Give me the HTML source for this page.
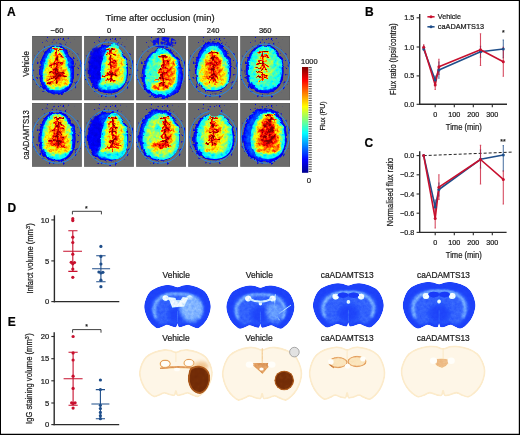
<!DOCTYPE html>
<html><head><meta charset="utf-8"><style>
html,body{margin:0;padding:0;background:#fff;}
body{width:520px;height:435px;overflow:hidden;position:relative;}
svg{position:absolute;left:0;top:0;font-family:"Liberation Sans", sans-serif;will-change:transform;}
text{stroke:#1a1a1a;stroke-width:0.22px;}
</style></head><body>
<svg width="520" height="435" viewBox="0 0 520 435">
<rect x="0" y="0" width="520" height="435" fill="#fff"/>
<text x="6.9" y="15.5" font-size="12" font-weight="bold" fill="#000">A</text>
<text x="365.0" y="15.5" font-size="12" font-weight="bold" fill="#000">B</text>
<text x="364.5" y="147.2" font-size="12" font-weight="bold" fill="#000">C</text>
<text x="7.6" y="211.7" font-size="12" font-weight="bold" fill="#000">D</text>
<text x="7.8" y="326.4" font-size="12" font-weight="bold" fill="#000">E</text>
<text x="105.6" y="20.7" font-size="9.3" textLength="109" lengthAdjust="spacingAndGlyphs" fill="#1a1a1a">Time after occlusion (min)</text>
<text x="56.95" y="32.6" font-size="7.5" text-anchor="middle" fill="#1a1a1a">−60</text>
<text x="109.0" y="32.6" font-size="7.5" text-anchor="middle" fill="#1a1a1a">0</text>
<text x="161.04999999999998" y="32.6" font-size="7.5" text-anchor="middle" fill="#1a1a1a">20</text>
<text x="213.09999999999997" y="32.6" font-size="7.5" text-anchor="middle" fill="#1a1a1a">240</text>
<text x="265.15" y="32.6" font-size="7.5" text-anchor="middle" fill="#1a1a1a">360</text>
<text x="29.4" y="63.8" font-size="8.5" text-anchor="middle" textLength="25.7" lengthAdjust="spacingAndGlyphs" transform="rotate(-90 29.4 63.8)" fill="#1a1a1a">Vehicle</text>
<text x="29.3" y="134.9" font-size="8.5" text-anchor="middle" textLength="49.3" lengthAdjust="spacingAndGlyphs" transform="rotate(-90 29.3 134.9)" fill="#1a1a1a">caADAMTS13</text>
<defs><linearGradient id="jet" x1="0" y1="1" x2="0" y2="0"><stop offset="0" stop-color="#00008f"/><stop offset="0.125" stop-color="#0000ff"/><stop offset="0.375" stop-color="#00ffff"/><stop offset="0.625" stop-color="#ffff00"/><stop offset="0.875" stop-color="#ff0000"/><stop offset="1" stop-color="#800000"/></linearGradient></defs>
<rect x="302" y="67" width="6.3" height="105.8" fill="url(#jet)"/>
<path d="M308.6 67.60h3.2 M308.6 69.96h3.2 M308.6 72.32h3.2 M308.6 74.68h3.2 M308.6 77.04h3.2 M308.6 79.40h3.2 M308.6 81.76h3.2 M308.6 84.12h3.2 M308.6 86.48h3.2 M308.6 88.84h3.2 M308.6 91.20h3.2 M308.6 93.56h3.2 M308.6 95.92h3.2 M308.6 98.28h3.2 M308.6 100.64h3.2 M308.6 103.00h3.2 M308.6 105.36h3.2 M308.6 107.72h3.2 M308.6 110.08h3.2 M308.6 112.44h3.2 M308.6 114.80h3.2 M308.6 117.16h3.2 M308.6 119.52h3.2 M308.6 121.88h3.2 M308.6 124.24h3.2 M308.6 126.60h3.2 M308.6 128.96h3.2 M308.6 131.32h3.2 M308.6 133.68h3.2 M308.6 136.04h3.2 M308.6 138.40h3.2 M308.6 140.76h3.2 M308.6 143.12h3.2 M308.6 145.48h3.2 M308.6 147.84h3.2 M308.6 150.20h3.2 M308.6 152.56h3.2 M308.6 154.92h3.2 M308.6 157.28h3.2 M308.6 159.64h3.2 M308.6 162.00h3.2 M308.6 164.36h3.2 M308.6 166.72h3.2 M308.6 169.08h3.2 M308.6 171.44h3.2" stroke="#333" stroke-width="0.9"/>
<text x="301" y="64.2" font-size="7.8" textLength="16.6" lengthAdjust="spacingAndGlyphs" fill="#1a1a1a">1000</text>
<text x="309.0" y="182.6" font-size="7.8" text-anchor="middle" fill="#1a1a1a">0</text>
<text x="324.7" y="116.0" font-size="7.7" text-anchor="middle" textLength="29.2" lengthAdjust="spacingAndGlyphs" transform="rotate(-90 324.7 116.0)" fill="#1a1a1a">Flux (PU)</text>
<line x1="419.7" y1="14" x2="419.7" y2="105.0" stroke="#2a2a2a" stroke-width="1.4"/>
<line x1="419.0" y1="104.3" x2="507.0" y2="104.3" stroke="#2a2a2a" stroke-width="1.4"/>
<line x1="416.6" y1="17.8" x2="419.7" y2="17.8" stroke="#2a2a2a" stroke-width="1.1"/>
<text x="414.3" y="20.3" font-size="7.2" text-anchor="end" fill="#1a1a1a">1.5</text>
<line x1="416.6" y1="47.0" x2="419.7" y2="47.0" stroke="#2a2a2a" stroke-width="1.1"/>
<text x="414.3" y="49.5" font-size="7.2" text-anchor="end" fill="#1a1a1a">1.0</text>
<line x1="416.6" y1="75.9" x2="419.7" y2="75.9" stroke="#2a2a2a" stroke-width="1.1"/>
<text x="414.3" y="78.4" font-size="7.2" text-anchor="end" fill="#1a1a1a">0.5</text>
<line x1="416.6" y1="104.3" x2="419.7" y2="104.3" stroke="#2a2a2a" stroke-width="1.1"/>
<text x="414.3" y="106.8" font-size="7.2" text-anchor="end" fill="#1a1a1a">0.0</text>
<line x1="435.2" y1="104.3" x2="435.2" y2="107.2" stroke="#2a2a2a" stroke-width="1.1"/>
<text x="435.2" y="116.7" font-size="7.2" text-anchor="middle" fill="#1a1a1a">0</text>
<line x1="454.3" y1="104.3" x2="454.3" y2="107.2" stroke="#2a2a2a" stroke-width="1.1"/>
<text x="454.3" y="116.7" font-size="7.2" text-anchor="middle" fill="#1a1a1a">100</text>
<line x1="473.3" y1="104.3" x2="473.3" y2="107.2" stroke="#2a2a2a" stroke-width="1.1"/>
<text x="473.3" y="116.7" font-size="7.2" text-anchor="middle" fill="#1a1a1a">200</text>
<line x1="492.3" y1="104.3" x2="492.3" y2="107.2" stroke="#2a2a2a" stroke-width="1.1"/>
<text x="492.3" y="116.7" font-size="7.2" text-anchor="middle" fill="#1a1a1a">300</text>
<text x="445.8" y="129.7" font-size="8.8" textLength="36" lengthAdjust="spacingAndGlyphs" fill="#1a1a1a">Time (min)</text>
<text x="395.6" y="59.1" font-size="8.8" text-anchor="middle" textLength="71.6" lengthAdjust="spacingAndGlyphs" transform="rotate(-90 395.6 59.1)" fill="#1a1a1a">Flux ratio (Ipsi/contra)</text>
<line x1="427.4" y1="16.8" x2="434.6" y2="16.8" stroke="#c8102e" stroke-width="1.5"/>
<circle cx="431" cy="16.8" r="1.5" fill="#c8102e"/>
<line x1="427.4" y1="26.8" x2="434.6" y2="26.8" stroke="#1f4e8a" stroke-width="1.5"/>
<circle cx="431" cy="26.8" r="1.5" fill="#1f4e8a"/>
<text x="437.8" y="19.2" font-size="7.6" textLength="23.1" lengthAdjust="spacingAndGlyphs" fill="#1a1a1a">Vehicle</text>
<text x="437.8" y="29.1" font-size="7.6" textLength="46.3" lengthAdjust="spacingAndGlyphs" fill="#1a1a1a">caADAMTS13</text>
<path d="M423.7 46V50M423.0 46h1.4M423.0 50h1.4" stroke="#1f4e8a" stroke-width="1.1" fill="none" opacity="0.75"/>
<path d="M435.2 76V84M434.5 76h1.4M434.5 84h1.4" stroke="#1f4e8a" stroke-width="1.1" fill="none" opacity="0.75"/>
<path d="M438.9 62V78.2M438.2 62h1.4M438.2 78.2h1.4" stroke="#1f4e8a" stroke-width="1.1" fill="none" opacity="0.75"/>
<path d="M480.5 46.2V57.3M479.8 46.2h1.4M479.8 57.3h1.4" stroke="#1f4e8a" stroke-width="1.1" fill="none" opacity="0.75"/>
<path d="M503.3 40.1V57.8M502.6 40.1h1.4M502.6 57.8h1.4" stroke="#1f4e8a" stroke-width="1.1" fill="none" opacity="0.75"/>
<path d="M423.7 44.9V49.5M423.0 44.9h1.4M423.0 49.5h1.4" stroke="#c8102e" stroke-width="1.1" fill="none" opacity="0.75"/>
<path d="M435.2 80V89.5M434.5 80h1.4M434.5 89.5h1.4" stroke="#c8102e" stroke-width="1.1" fill="none" opacity="0.75"/>
<path d="M438.9 59.3V74.5M438.2 59.3h1.4M438.2 74.5h1.4" stroke="#c8102e" stroke-width="1.1" fill="none" opacity="0.75"/>
<path d="M480.5 33.7V65.5M479.8 33.7h1.4M479.8 65.5h1.4" stroke="#c8102e" stroke-width="1.1" fill="none" opacity="0.75"/>
<path d="M503.3 47.3V76.3M502.6 47.3h1.4M502.6 76.3h1.4" stroke="#c8102e" stroke-width="1.1" fill="none" opacity="0.75"/>
<polyline points="423.7,49.0 435.2,80.0 438.9,70.0 480.5,51.7 503.3,49.0" fill="none" stroke="#1f4e8a" stroke-width="1.6" stroke-linejoin="round"/>
<polyline points="423.7,47.2 435.2,85.0 438.9,66.7 480.5,49.8 503.3,61.8" fill="none" stroke="#c8102e" stroke-width="1.6" stroke-linejoin="round"/>
<circle cx="423.7" cy="49" r="1.5" fill="#1f4e8a"/>
<circle cx="435.2" cy="80" r="1.5" fill="#1f4e8a"/>
<circle cx="438.9" cy="70" r="1.5" fill="#1f4e8a"/>
<circle cx="480.5" cy="51.7" r="1.5" fill="#1f4e8a"/>
<circle cx="503.3" cy="49" r="1.5" fill="#1f4e8a"/>
<circle cx="423.7" cy="47.2" r="1.5" fill="#c8102e"/>
<circle cx="435.2" cy="85" r="1.5" fill="#c8102e"/>
<circle cx="438.9" cy="66.7" r="1.5" fill="#c8102e"/>
<circle cx="480.5" cy="49.8" r="1.5" fill="#c8102e"/>
<circle cx="503.3" cy="61.8" r="1.5" fill="#c8102e"/>
<text x="503.4" y="35.0" font-size="7" text-anchor="middle" fill="#1a1a1a">*</text>
<line x1="419.7" y1="151.3" x2="419.7" y2="233.0" stroke="#2a2a2a" stroke-width="1.4"/>
<line x1="419.0" y1="232.4" x2="506.6" y2="232.4" stroke="#2a2a2a" stroke-width="1.4"/>
<line x1="416.6" y1="155.6" x2="419.7" y2="155.6" stroke="#2a2a2a" stroke-width="1.1"/>
<text x="414.3" y="158.1" font-size="7.2" text-anchor="end" fill="#1a1a1a">0.0</text>
<line x1="416.6" y1="174.8" x2="419.7" y2="174.8" stroke="#2a2a2a" stroke-width="1.1"/>
<text x="414.3" y="177.3" font-size="7.2" text-anchor="end" fill="#1a1a1a">−0.2</text>
<line x1="416.6" y1="194.0" x2="419.7" y2="194.0" stroke="#2a2a2a" stroke-width="1.1"/>
<text x="414.3" y="196.5" font-size="7.2" text-anchor="end" fill="#1a1a1a">−0.4</text>
<line x1="416.6" y1="213.2" x2="419.7" y2="213.2" stroke="#2a2a2a" stroke-width="1.1"/>
<text x="414.3" y="215.7" font-size="7.2" text-anchor="end" fill="#1a1a1a">−0.6</text>
<line x1="416.6" y1="232.4" x2="419.7" y2="232.4" stroke="#2a2a2a" stroke-width="1.1"/>
<text x="414.3" y="234.9" font-size="7.2" text-anchor="end" fill="#1a1a1a">−0.8</text>
<line x1="435.2" y1="232.4" x2="435.2" y2="235.3" stroke="#2a2a2a" stroke-width="1.1"/>
<text x="435.2" y="244.7" font-size="7.2" text-anchor="middle" fill="#1a1a1a">0</text>
<line x1="454.3" y1="232.4" x2="454.3" y2="235.3" stroke="#2a2a2a" stroke-width="1.1"/>
<text x="454.3" y="244.7" font-size="7.2" text-anchor="middle" fill="#1a1a1a">100</text>
<line x1="473.3" y1="232.4" x2="473.3" y2="235.3" stroke="#2a2a2a" stroke-width="1.1"/>
<text x="473.3" y="244.7" font-size="7.2" text-anchor="middle" fill="#1a1a1a">200</text>
<line x1="492.3" y1="232.4" x2="492.3" y2="235.3" stroke="#2a2a2a" stroke-width="1.1"/>
<text x="492.3" y="244.7" font-size="7.2" text-anchor="middle" fill="#1a1a1a">300</text>
<text x="445.8" y="257.7" font-size="8.8" textLength="36" lengthAdjust="spacingAndGlyphs" fill="#1a1a1a">Time (min)</text>
<text x="392.5" y="192.0" font-size="8.8" text-anchor="middle" textLength="68.5" lengthAdjust="spacingAndGlyphs" transform="rotate(-90 392.5 192.0)" fill="#1a1a1a">Normalised flux ratio</text>
<line x1="423.7" y1="155.6" x2="512" y2="152.1" stroke="#222" stroke-width="1" stroke-dasharray="3,2"/>
<path d="M435.2 200V212M434.5 200h1.4M434.5 212h1.4" stroke="#1f4e8a" stroke-width="1.1" fill="none" opacity="0.75"/>
<path d="M438.9 183V196M438.2 183h1.4M438.2 196h1.4" stroke="#1f4e8a" stroke-width="1.1" fill="none" opacity="0.75"/>
<path d="M480.5 150V168M479.8 150h1.4M479.8 168h1.4" stroke="#1f4e8a" stroke-width="1.1" fill="none" opacity="0.75"/>
<path d="M503.3 145.6V171M502.6 145.6h1.4M502.6 171h1.4" stroke="#1f4e8a" stroke-width="1.1" fill="none" opacity="0.75"/>
<path d="M435.2 205V228M434.5 205h1.4M434.5 228h1.4" stroke="#c8102e" stroke-width="1.1" fill="none" opacity="0.75"/>
<path d="M438.9 174.8V199.4M438.2 174.8h1.4M438.2 199.4h1.4" stroke="#c8102e" stroke-width="1.1" fill="none" opacity="0.75"/>
<path d="M480.5 145.4V184M479.8 145.4h1.4M479.8 184h1.4" stroke="#c8102e" stroke-width="1.1" fill="none" opacity="0.75"/>
<path d="M503.3 171V204M502.6 171h1.4M502.6 204h1.4" stroke="#c8102e" stroke-width="1.1" fill="none" opacity="0.75"/>
<polyline points="423.7,155.6 435.2,207.0 438.9,189.5 480.5,159.3 503.3,155.0" fill="none" stroke="#1f4e8a" stroke-width="1.6" stroke-linejoin="round"/>
<polyline points="423.7,155.6 435.2,218.5 438.9,187.2 480.5,159.5 503.3,179.4" fill="none" stroke="#c8102e" stroke-width="1.6" stroke-linejoin="round"/>
<circle cx="423.7" cy="155.6" r="1.5" fill="#1f4e8a"/>
<circle cx="435.2" cy="207" r="1.5" fill="#1f4e8a"/>
<circle cx="438.9" cy="189.5" r="1.5" fill="#1f4e8a"/>
<circle cx="480.5" cy="159.3" r="1.5" fill="#1f4e8a"/>
<circle cx="503.3" cy="155" r="1.5" fill="#1f4e8a"/>
<circle cx="423.7" cy="155.6" r="1.5" fill="#c8102e"/>
<circle cx="435.2" cy="218.5" r="1.5" fill="#c8102e"/>
<circle cx="438.9" cy="187.2" r="1.5" fill="#c8102e"/>
<circle cx="480.5" cy="159.5" r="1.5" fill="#c8102e"/>
<circle cx="503.3" cy="179.4" r="1.5" fill="#c8102e"/>
<text x="503.0" y="144.3" font-size="7" text-anchor="middle" fill="#1a1a1a">**</text>
<line x1="54.4" y1="215.3" x2="54.4" y2="302.3" stroke="#2a2a2a" stroke-width="1.4"/>
<line x1="53.7" y1="301.6" x2="119.3" y2="301.6" stroke="#2a2a2a" stroke-width="1.4"/>
<line x1="51.3" y1="219.9" x2="54.4" y2="219.9" stroke="#2a2a2a" stroke-width="1.1"/>
<text x="49.3" y="222.6" font-size="7.6" text-anchor="end" fill="#1a1a1a">10</text>
<line x1="51.3" y1="260.9" x2="54.4" y2="260.9" stroke="#2a2a2a" stroke-width="1.1"/>
<text x="49.3" y="263.59999999999997" font-size="7.6" text-anchor="end" fill="#1a1a1a">5</text>
<line x1="51.3" y1="301.6" x2="54.4" y2="301.6" stroke="#2a2a2a" stroke-width="1.1"/>
<text x="49.3" y="304.3" font-size="7.6" text-anchor="end" fill="#1a1a1a">0</text>
<text x="33.3" y="258.4" font-size="8.7" text-anchor="middle" textLength="70.3" lengthAdjust="spacingAndGlyphs" transform="rotate(-90 33.3 258.4)" fill="#1a1a1a">Infarct volume (mm<tspan font-size="6.2" dy="-3.2">3</tspan><tspan dx="0.4" dy="3.2">)</tspan></text>
<path d="M72.4 214.4V211.3H101.4V214.4" fill="none" stroke="#2a2a2a" stroke-width="0.9"/>
<text x="86.4" y="210.8" font-size="7" text-anchor="middle" fill="#1a1a1a">*</text>
<circle cx="72.8" cy="218.7" r="1.6" fill="#c8102e"/>
<circle cx="72.8" cy="220.6" r="1.6" fill="#c8102e"/>
<circle cx="72.8" cy="237.2" r="1.6" fill="#c8102e"/>
<circle cx="72.8" cy="242.5" r="1.6" fill="#c8102e"/>
<circle cx="72.8" cy="254.2" r="1.6" fill="#c8102e"/>
<circle cx="71.2" cy="262.3" r="1.6" fill="#c8102e"/>
<circle cx="74.5" cy="262.5" r="1.6" fill="#c8102e"/>
<circle cx="72.8" cy="263.8" r="1.6" fill="#c8102e"/>
<circle cx="72.8" cy="269.1" r="1.6" fill="#c8102e"/>
<circle cx="72.8" cy="277.3" r="1.6" fill="#c8102e"/>
<path d="M72.8 230.8V271.4M68.3 230.8H77.5M68.3 271.4H77.5M63.2 251.3H82" stroke="#c8102e" stroke-width="1.1"/>
<circle cx="100.9" cy="246.4" r="1.6" fill="#1f4e8a"/>
<circle cx="100.9" cy="256.4" r="1.6" fill="#1f4e8a"/>
<circle cx="100.9" cy="264" r="1.6" fill="#1f4e8a"/>
<circle cx="98.9" cy="272" r="1.6" fill="#1f4e8a"/>
<circle cx="102.9" cy="272.3" r="1.6" fill="#1f4e8a"/>
<circle cx="100.9" cy="273" r="1.6" fill="#1f4e8a"/>
<circle cx="100.9" cy="280.2" r="1.6" fill="#1f4e8a"/>
<circle cx="100.9" cy="286.7" r="1.6" fill="#1f4e8a"/>
<path d="M100.9 255.8V281.8M96.2 255.8H105.6M96.2 281.8H105.6M92.1 268.7H110.1" stroke="#1f4e8a" stroke-width="1.1"/>
<line x1="54.2" y1="332.2" x2="54.2" y2="425.3" stroke="#2a2a2a" stroke-width="1.4"/>
<line x1="53.5" y1="424.6" x2="119.2" y2="424.6" stroke="#2a2a2a" stroke-width="1.4"/>
<line x1="51.3" y1="336.5" x2="54.2" y2="336.5" stroke="#2a2a2a" stroke-width="1.1"/>
<text x="49.3" y="339.2" font-size="7.6" text-anchor="end" fill="#1a1a1a">20</text>
<line x1="51.3" y1="358.7" x2="54.2" y2="358.7" stroke="#2a2a2a" stroke-width="1.1"/>
<text x="49.3" y="361.4" font-size="7.6" text-anchor="end" fill="#1a1a1a">15</text>
<line x1="51.3" y1="380.8" x2="54.2" y2="380.8" stroke="#2a2a2a" stroke-width="1.1"/>
<text x="49.3" y="383.5" font-size="7.6" text-anchor="end" fill="#1a1a1a">10</text>
<line x1="51.3" y1="403.0" x2="54.2" y2="403.0" stroke="#2a2a2a" stroke-width="1.1"/>
<text x="49.3" y="405.7" font-size="7.6" text-anchor="end" fill="#1a1a1a">5</text>
<line x1="51.3" y1="424.6" x2="54.2" y2="424.6" stroke="#2a2a2a" stroke-width="1.1"/>
<text x="49.3" y="427.3" font-size="7.6" text-anchor="end" fill="#1a1a1a">0</text>
<text x="32.3" y="378.6" font-size="8.7" text-anchor="middle" textLength="90.6" lengthAdjust="spacingAndGlyphs" transform="rotate(-90 32.3 378.6)" fill="#1a1a1a">IgG staining volume (mm<tspan font-size="6.2" dy="-3.2">3</tspan><tspan dx="0.4" dy="3.2">)</tspan></text>
<path d="M72.6 332.7V329.6H101V332.7" fill="none" stroke="#2a2a2a" stroke-width="0.9"/>
<text x="86.5" y="329.0" font-size="7" text-anchor="middle" fill="#1a1a1a">*</text>
<circle cx="73.1" cy="336.5" r="1.6" fill="#c8102e"/>
<circle cx="73.1" cy="352.9" r="1.6" fill="#c8102e"/>
<circle cx="73.1" cy="360" r="1.6" fill="#c8102e"/>
<circle cx="73.1" cy="376.2" r="1.6" fill="#c8102e"/>
<circle cx="73.1" cy="388.4" r="1.6" fill="#c8102e"/>
<circle cx="71.6" cy="402.8" r="1.6" fill="#c8102e"/>
<circle cx="75.1" cy="402.8" r="1.6" fill="#c8102e"/>
<circle cx="73.1" cy="403.5" r="1.6" fill="#c8102e"/>
<circle cx="73.1" cy="408.1" r="1.6" fill="#c8102e"/>
<path d="M73.1 352.2V405.3M68.5 352.2H77.7M68.5 405.3H77.7M63.6 378.7H82.6" stroke="#c8102e" stroke-width="1.1"/>
<circle cx="100.4" cy="380" r="1.6" fill="#1f4e8a"/>
<circle cx="100.4" cy="389.6" r="1.6" fill="#1f4e8a"/>
<circle cx="100.4" cy="405.3" r="1.6" fill="#1f4e8a"/>
<circle cx="100.4" cy="408.6" r="1.6" fill="#1f4e8a"/>
<circle cx="100.4" cy="412.4" r="1.6" fill="#1f4e8a"/>
<circle cx="100.4" cy="415.7" r="1.6" fill="#1f4e8a"/>
<circle cx="100.4" cy="418.7" r="1.6" fill="#1f4e8a"/>
<path d="M100.4 389.6V418.7M95.8 389.6H105M95.8 418.7H105M91.4 404H109.4" stroke="#1f4e8a" stroke-width="1.1"/>
<text x="176.2" y="278.0" font-size="8.5" text-anchor="middle" textLength="27.3" lengthAdjust="spacingAndGlyphs" fill="#1a1a1a">Vehicle</text>
<text x="259.3" y="278.0" font-size="8.5" text-anchor="middle" textLength="27.1" lengthAdjust="spacingAndGlyphs" fill="#1a1a1a">Vehicle</text>
<text x="347.2" y="278.0" font-size="8.5" text-anchor="middle" textLength="52.9" lengthAdjust="spacingAndGlyphs" fill="#1a1a1a">caADAMTS13</text>
<text x="443.5" y="278.0" font-size="8.5" text-anchor="middle" textLength="52.9" lengthAdjust="spacingAndGlyphs" fill="#1a1a1a">caADAMTS13</text>
<text x="176.0" y="341.3" font-size="8.5" text-anchor="middle" textLength="27.3" lengthAdjust="spacingAndGlyphs" fill="#1a1a1a">Vehicle</text>
<text x="259.0" y="341.3" font-size="8.5" text-anchor="middle" textLength="27.3" lengthAdjust="spacingAndGlyphs" fill="#1a1a1a">Vehicle</text>
<text x="347.2" y="341.3" font-size="8.5" text-anchor="middle" textLength="52.9" lengthAdjust="spacingAndGlyphs" fill="#1a1a1a">caADAMTS13</text>
<text x="443.3" y="341.3" font-size="8.5" text-anchor="middle" textLength="52.9" lengthAdjust="spacingAndGlyphs" fill="#1a1a1a">caADAMTS13</text>
<defs>
<filter id="bluef" x="-5%" y="-5%" width="110%" height="110%" color-interpolation-filters="sRGB">
 <feGaussianBlur in="SourceGraphic" stdDeviation="0.5" result="sg"/>
 <feTurbulence type="fractalNoise" baseFrequency="0.35" numOctaves="3" seed="21" result="n"/>
 <feColorMatrix in="n" type="matrix" values="1 0 0 0 0  1 0 0 0 0  1 0 0 0 0  0 0 0 0 1" result="ng"/>
 <feComposite in="sg" in2="ng" operator="arithmetic" k1="0.4" k2="0.8" k3="0" k4="0" result="sum"/>
 <feComposite in="sum" in2="sg" operator="in" result="cl"/>
 <feComponentTransfer in="cl">
  <feFuncR type="table" tableValues="0.06 0.15 0.42 0.72 0.97"/>
  <feFuncG type="table" tableValues="0.15 0.33 0.64 0.87 0.99"/>
  <feFuncB type="table" tableValues="0.96 0.99 1 1 1"/>
 </feComponentTransfer>
</filter>
<filter id="brownf" x="-5%" y="-5%" width="110%" height="110%" color-interpolation-filters="sRGB">
 <feGaussianBlur in="SourceGraphic" stdDeviation="0.45" result="sg"/>
 <feTurbulence type="fractalNoise" baseFrequency="0.3" numOctaves="3" seed="5" result="n"/>
 <feColorMatrix in="n" type="matrix" values="1 0 0 0 0  1 0 0 0 0  1 0 0 0 0  0 0 0 0 1" result="ng"/>
 <feComposite in="sg" in2="ng" operator="arithmetic" k1="0.3" k2="0.85" k3="0" k4="0" result="sum"/>
 <feComposite in="sum" in2="sg" operator="in" result="cl"/>
 <feComponentTransfer in="cl">
  <feFuncR type="table" tableValues="1.0 0.985 0.9 0.68 0.46 0.38"/>
  <feFuncG type="table" tableValues="0.975 0.9 0.64 0.36 0.18 0.12"/>
  <feFuncB type="table" tableValues="0.93 0.74 0.4 0.12 0.03 0.02"/>
 </feComponentTransfer>
</filter>
<filter id="brownf2" x="-10%" y="-10%" width="120%" height="120%" color-interpolation-filters="sRGB">
 <feGaussianBlur in="SourceGraphic" stdDeviation="0.5" result="sg"/>
 <feTurbulence type="fractalNoise" baseFrequency="0.2" numOctaves="2" seed="9" result="n"/>
 <feColorMatrix in="n" type="matrix" values="1 0 0 0 0  1 0 0 0 0  1 0 0 0 0  0 0 0 0 1" result="ng"/>
 <feComposite in="sg" in2="ng" operator="arithmetic" k1="0.14" k2="0.93" k3="0" k4="0" result="sum"/>
 <feComposite in="sum" in2="sg" operator="in" result="cl"/>
 <feComponentTransfer in="cl">
  <feFuncR type="table" tableValues="1.0 0.985 0.9 0.68 0.46 0.38"/>
  <feFuncG type="table" tableValues="0.975 0.9 0.64 0.36 0.18 0.12"/>
  <feFuncB type="table" tableValues="0.93 0.74 0.4 0.12 0.03 0.02"/>
 </feComponentTransfer>
</filter>
<filter id="bl05"><feGaussianBlur stdDeviation="0.5"/></filter>
<filter id="bl1"><feGaussianBlur stdDeviation="1"/></filter>
<filter id="bl2"><feGaussianBlur stdDeviation="2"/></filter>
</defs>
<g filter="url(#bluef)">
<path d="M177.50,287.17C179.27,287.17 181.04,285.79 182.81,285.43C184.58,285.07 185.69,284.71 188.12,285.00C190.56,285.29 194.65,286.08 197.42,287.17C200.19,288.25 202.84,289.69 204.72,291.50C206.61,293.30 207.71,295.61 208.71,297.99C209.70,300.37 210.53,303.33 210.70,305.78C210.87,308.24 210.37,310.40 209.70,312.71C209.04,315.02 207.99,317.55 206.72,319.64C205.44,321.73 203.62,323.83 202.07,325.27C200.52,326.71 199.08,328.08 197.42,328.30C195.76,328.52 193.66,327.15 192.11,326.57C190.56,325.99 189.67,324.84 188.12,324.84C186.57,324.84 184.36,326.21 182.81,326.57C181.26,326.93 179.71,327.58 178.83,327.00C177.94,326.42 177.94,323.10 177.50,323.10C177.06,323.10 177.06,326.42 176.17,327.00C175.29,327.58 173.74,326.93 172.19,326.57C170.64,326.21 168.43,324.84 166.88,324.84C165.33,324.84 164.44,325.99 162.89,326.57C161.34,327.15 159.24,328.52 157.58,328.30C155.92,328.08 154.48,326.71 152.93,325.27C151.38,323.83 149.56,321.73 148.28,319.64C147.01,317.55 145.96,315.02 145.30,312.71C144.63,310.40 144.13,308.24 144.30,305.78C144.47,303.33 145.30,300.37 146.29,297.99C147.29,295.61 148.39,293.30 150.28,291.50C152.16,289.69 154.81,288.25 157.58,287.17C160.35,286.08 164.44,285.29 166.88,285.00C169.31,284.71 170.42,285.07 172.19,285.43C173.96,285.79 175.73,287.17 177.50,287.17Z" fill="#262626"/>
<path d="M177.50,294.12C178.92,294.12 180.35,293.09 181.77,292.82C183.20,292.55 184.09,292.28 186.04,292.50C188.00,292.72 191.30,293.31 193.52,294.12C195.75,294.92 197.88,296.00 199.39,297.35C200.91,298.69 201.80,300.41 202.60,302.19C203.40,303.97 204.07,306.17 204.20,308.00C204.33,309.83 203.93,311.45 203.40,313.17C202.87,314.89 202.02,316.78 201.00,318.34C199.97,319.90 198.50,321.46 197.26,322.54C196.01,323.62 194.86,324.64 193.52,324.80C192.19,324.96 190.49,323.94 189.25,323.51C188.00,323.08 187.29,322.22 186.04,322.22C184.80,322.22 183.02,323.24 181.77,323.51C180.53,323.78 179.28,324.26 178.57,323.83C177.86,323.40 177.86,320.92 177.50,320.92C177.14,320.92 177.14,323.40 176.43,323.83C175.72,324.26 174.47,323.78 173.23,323.51C171.98,323.24 170.20,322.22 168.96,322.22C167.71,322.22 167.00,323.08 165.75,323.51C164.51,323.94 162.82,324.96 161.48,324.80C160.15,324.64 158.99,323.62 157.74,322.54C156.50,321.46 155.03,319.90 154.00,318.34C152.98,316.78 152.13,314.89 151.60,313.17C151.07,311.45 150.67,309.83 150.80,308.00C150.93,306.17 151.60,303.97 152.40,302.19C153.20,300.41 154.09,298.69 155.61,297.35C157.12,296.00 159.26,294.92 161.48,294.12C163.71,293.31 167.00,292.72 168.96,292.50C170.91,292.28 171.80,292.55 173.23,292.82C174.65,293.09 176.08,294.12 177.50,294.12Z" fill="#4c4c4c" filter="url(#bl1)"/>
<ellipse cx="177.5" cy="314.4" rx="9.3" ry="8.7" fill="#2b2b2b" filter="url(#bl2)"/>
<path d="M156.1,318.3 C149.7,302.2 161.5,293.1 177.5,293.8 C193.5,293.1 205.3,302.2 198.9,318.3" fill="none" stroke="#999999" stroke-width="2.4" filter="url(#bl1)"/>
<ellipse cx="165.5" cy="298.0" rx="3.0" ry="2.8" fill="#ffffff" filter="url(#bl05)"/>
<ellipse cx="189.5" cy="298.0" rx="3.0" ry="2.8" fill="#ffffff" filter="url(#bl05)"/>
<ellipse cx="177.5" cy="303.2" rx="1.7" ry="1.7" fill="#f2f2f2"/>
<path d="M166.2,298.0Q177.5,304.5 188.8,298.0" stroke="#d9d9d9" stroke-width="2" fill="none" filter="url(#bl05)"/>
<path d="M177.5,311.0V321.8" stroke="#666666" stroke-width="0.6"/>
<ellipse cx="190.8" cy="308.8" rx="11.3" ry="12.1" fill="#949494" filter="url(#bl2)"/>
<path d="M168.2,297.1 L175.5,298.0 L177.5,304.5 L182.8,297.1 L188.1,298.0 L184.1,306.6 L172.2,307.5Z" fill="#f2f2f2" filter="url(#bl05)"/>
<path d="M177.5,287.2V298.0M177.5,311.0V326.1" stroke="#1a1a1a" stroke-width="2.5" filter="url(#bl05)"/>
</g>
<g filter="url(#bluef)">
<path d="M260.40,287.76C262.21,287.76 264.03,286.39 265.84,286.03C267.65,285.67 268.79,285.31 271.28,285.60C273.77,285.89 277.97,286.68 280.80,287.76C283.63,288.84 286.35,290.28 288.28,292.08C290.21,293.88 291.34,296.18 292.36,298.56C293.38,300.94 294.23,303.89 294.40,306.34C294.57,308.78 294.06,310.94 293.38,313.25C292.70,315.55 291.62,318.07 290.32,320.16C289.02,322.25 287.15,324.34 285.56,325.78C283.97,327.22 282.50,328.58 280.80,328.80C279.10,329.02 276.95,327.65 275.36,327.07C273.77,326.50 272.87,325.34 271.28,325.34C269.69,325.34 267.43,326.71 265.84,327.07C264.25,327.43 262.67,328.08 261.76,327.50C260.85,326.93 260.85,323.62 260.40,323.62C259.95,323.62 259.95,326.93 259.04,327.50C258.13,328.08 256.55,327.43 254.96,327.07C253.37,326.71 251.11,325.34 249.52,325.34C247.93,325.34 247.03,326.50 245.44,327.07C243.85,327.65 241.70,329.02 240.00,328.80C238.30,328.58 236.83,327.22 235.24,325.78C233.65,324.34 231.78,322.25 230.48,320.16C229.18,318.07 228.10,315.55 227.42,313.25C226.74,310.94 226.23,308.78 226.40,306.34C226.57,303.89 227.42,300.94 228.44,298.56C229.46,296.18 230.59,293.88 232.52,292.08C234.45,290.28 237.17,288.84 240.00,287.76C242.83,286.68 247.03,285.89 249.52,285.60C252.01,285.31 253.15,285.67 254.96,286.03C256.77,286.39 258.59,287.76 260.40,287.76Z" fill="#262626"/>
<path d="M260.40,294.71C261.87,294.71 263.33,293.69 264.80,293.42C266.27,293.15 267.18,292.89 269.20,293.10C271.22,293.31 274.61,293.91 276.90,294.71C279.19,295.52 281.39,296.59 282.95,297.93C284.51,299.27 285.43,300.99 286.25,302.76C287.07,304.53 287.76,306.73 287.90,308.56C288.04,310.38 287.62,311.99 287.07,313.71C286.52,315.43 285.65,317.30 284.60,318.86C283.55,320.42 282.03,321.97 280.75,323.05C279.47,324.12 278.27,325.14 276.90,325.30C275.52,325.46 273.78,324.44 272.50,324.01C271.22,323.58 270.48,322.72 269.20,322.72C267.92,322.72 266.08,323.74 264.80,324.01C263.52,324.28 262.23,324.76 261.50,324.33C260.77,323.90 260.77,321.44 260.40,321.44C260.03,321.44 260.03,323.90 259.30,324.33C258.57,324.76 257.28,324.28 256.00,324.01C254.72,323.74 252.88,322.72 251.60,322.72C250.32,322.72 249.58,323.58 248.30,324.01C247.02,324.44 245.28,325.46 243.90,325.30C242.53,325.14 241.33,324.12 240.05,323.05C238.77,321.97 237.25,320.42 236.20,318.86C235.15,317.30 234.28,315.43 233.72,313.71C233.17,311.99 232.76,310.38 232.90,308.56C233.04,306.73 233.73,304.53 234.55,302.76C235.38,300.99 236.29,299.27 237.85,297.93C239.41,296.59 241.61,295.52 243.90,294.71C246.19,293.91 249.58,293.31 251.60,293.10C253.62,292.89 254.53,293.15 256.00,293.42C257.47,293.69 258.93,294.71 260.40,294.71Z" fill="#4c4c4c" filter="url(#bl1)"/>
<ellipse cx="260.4" cy="315.0" rx="9.5" ry="8.6" fill="#2b2b2b" filter="url(#bl2)"/>
<path d="M238.4,318.9 C231.8,302.8 243.9,293.7 260.4,294.4 C276.9,293.7 289.0,302.8 282.4,318.9" fill="none" stroke="#999999" stroke-width="2.4" filter="url(#bl1)"/>
<ellipse cx="248.2" cy="298.6" rx="3.1" ry="2.8" fill="#ffffff" filter="url(#bl05)"/>
<ellipse cx="272.6" cy="298.6" rx="3.1" ry="2.8" fill="#ffffff" filter="url(#bl05)"/>
<ellipse cx="260.4" cy="303.7" rx="1.7" ry="1.7" fill="#f2f2f2"/>
<path d="M248.8,298.6Q260.4,305.0 272.0,298.6" stroke="#d9d9d9" stroke-width="2" fill="none" filter="url(#bl05)"/>
<path d="M260.4,311.5V322.3" stroke="#666666" stroke-width="0.6"/>
<path d="M275.4,294.2L274.0,311.5L279.4,320.2M276.0,315.8L291.0,305.0" stroke="#e6e6e6" stroke-width="0.8" fill="none"/>
<ellipse cx="274.0" cy="311.5" rx="8.2" ry="9.5" fill="#7a7a7a" filter="url(#bl2)"/>
</g>
<g filter="url(#bluef)">
<path d="M348.35,285.51C350.24,285.51 352.12,284.11 354.01,283.74C355.89,283.37 357.07,283.01 359.66,283.30C362.25,283.59 366.61,284.40 369.56,285.51C372.51,286.62 375.33,288.09 377.34,289.93C379.34,291.77 380.52,294.13 381.58,296.56C382.64,298.99 383.52,302.01 383.70,304.52C383.88,307.02 383.35,309.23 382.64,311.59C381.93,313.95 380.81,316.52 379.46,318.66C378.10,320.80 376.16,322.93 374.51,324.41C372.86,325.88 371.33,327.28 369.56,327.50C367.79,327.72 365.55,326.32 363.90,325.73C362.25,325.14 361.31,323.96 359.66,323.96C358.01,323.96 355.66,325.36 354.01,325.73C352.36,326.10 350.71,326.76 349.76,326.17C348.82,325.58 348.82,322.20 348.35,322.20C347.88,322.20 347.88,325.58 346.94,326.17C345.99,326.76 344.34,326.10 342.69,325.73C341.04,325.36 338.69,323.96 337.04,323.96C335.39,323.96 334.45,325.14 332.80,325.73C331.15,326.32 328.91,327.72 327.14,327.50C325.37,327.28 323.84,325.88 322.19,324.41C320.54,322.93 318.60,320.80 317.24,318.66C315.89,316.52 314.77,313.95 314.06,311.59C313.35,309.23 312.82,307.02 313.00,304.52C313.18,302.01 314.06,298.99 315.12,296.56C316.18,294.13 317.36,291.77 319.36,289.93C321.37,288.09 324.19,286.62 327.14,285.51C330.09,284.40 334.45,283.59 337.04,283.30C339.63,283.01 340.81,283.37 342.69,283.74C344.58,284.11 346.46,285.51 348.35,285.51Z" fill="#262626"/>
<path d="M348.35,292.46C349.89,292.46 351.43,291.41 352.97,291.13C354.50,290.86 355.47,290.58 357.58,290.80C359.70,291.02 363.26,291.63 365.66,292.46C368.06,293.29 370.37,294.40 372.01,295.78C373.64,297.16 374.60,298.93 375.47,300.76C376.33,302.59 377.06,304.85 377.20,306.74C377.34,308.62 376.91,310.28 376.33,312.05C375.76,313.82 374.84,315.76 373.74,317.36C372.63,318.96 371.05,320.57 369.70,321.68C368.35,322.78 367.10,323.83 365.66,324.00C364.22,324.17 362.39,323.11 361.04,322.67C359.70,322.23 358.93,321.34 357.58,321.34C356.24,321.34 354.31,322.40 352.97,322.67C351.62,322.95 350.27,323.45 349.50,323.00C348.73,322.56 348.73,320.02 348.35,320.02C347.97,320.02 347.97,322.56 347.20,323.00C346.43,323.45 345.08,322.95 343.73,322.67C342.39,322.40 340.46,321.34 339.12,321.34C337.77,321.34 337.00,322.23 335.66,322.67C334.31,323.11 332.48,324.17 331.04,324.00C329.60,323.83 328.35,322.78 327.00,321.68C325.65,320.57 324.07,318.96 322.96,317.36C321.86,315.76 320.94,313.82 320.37,312.05C319.79,310.28 319.36,308.62 319.50,306.74C319.64,304.85 320.37,302.59 321.23,300.76C322.10,298.93 323.06,297.16 324.69,295.78C326.33,294.40 328.64,293.29 331.04,292.46C333.44,291.63 337.00,291.02 339.12,290.80C341.23,290.58 342.20,290.86 343.73,291.13C345.27,291.41 346.81,292.46 348.35,292.46Z" fill="#4c4c4c" filter="url(#bl1)"/>
<ellipse cx="348.4" cy="313.4" rx="9.9" ry="8.8" fill="#2b2b2b" filter="url(#bl2)"/>
<path d="M325.3,317.4 C318.3,300.8 331.0,291.5 348.4,292.1 C365.7,291.5 378.4,300.8 371.4,317.4" fill="none" stroke="#999999" stroke-width="2.4" filter="url(#bl1)"/>
<ellipse cx="335.6" cy="296.6" rx="3.2" ry="2.9" fill="#ffffff" filter="url(#bl05)"/>
<ellipse cx="361.1" cy="296.6" rx="3.2" ry="2.9" fill="#ffffff" filter="url(#bl05)"/>
<ellipse cx="348.4" cy="301.9" rx="1.8" ry="1.8" fill="#f2f2f2"/>
<ellipse cx="343.0" cy="295.2" rx="5.3" ry="2.7" fill="#1a1a1a" filter="url(#bl05)"/>
<ellipse cx="353.7" cy="295.2" rx="5.3" ry="2.7" fill="#1a1a1a" filter="url(#bl05)"/>
<path d="M348.4,309.8V320.9" stroke="#666666" stroke-width="0.6"/>
</g>
<g filter="url(#bluef)">
<path d="M439.10,284.32C441.04,284.32 442.97,282.85 444.91,282.46C446.84,282.08 448.05,281.69 450.72,282.00C453.38,282.31 457.86,283.16 460.88,284.32C463.90,285.49 466.81,287.04 468.87,288.98C470.92,290.91 472.13,293.39 473.22,295.95C474.31,298.51 475.22,301.69 475.40,304.32C475.58,306.95 475.04,309.28 474.31,311.76C473.59,314.24 472.44,316.95 471.04,319.20C469.65,321.45 467.66,323.69 465.96,325.25C464.27,326.80 462.69,328.27 460.88,328.50C459.06,328.73 456.77,327.26 455.07,326.64C453.38,326.02 452.41,324.78 450.72,324.78C449.02,324.78 446.60,326.25 444.91,326.64C443.21,327.03 441.52,327.73 440.55,327.11C439.58,326.49 439.58,322.92 439.10,322.92C438.62,322.92 438.62,326.49 437.65,327.11C436.68,327.73 434.99,327.03 433.29,326.64C431.60,326.25 429.18,324.78 427.48,324.78C425.79,324.78 424.82,326.02 423.13,326.64C421.43,327.26 419.13,328.73 417.32,328.50C415.50,328.27 413.93,326.80 412.24,325.25C410.54,323.69 408.55,321.45 407.16,319.20C405.76,316.95 404.62,314.24 403.89,311.76C403.16,309.28 402.62,306.95 402.80,304.32C402.98,301.69 403.89,298.51 404.98,295.95C406.07,293.39 407.28,290.91 409.33,288.98C411.39,287.04 414.29,285.49 417.32,284.32C420.35,283.16 424.82,282.31 427.48,282.00C430.15,281.69 431.36,282.08 433.29,282.46C435.23,282.85 437.16,284.32 439.10,284.32Z" fill="#262626"/>
<path d="M439.10,291.27C440.69,291.27 442.28,290.15 443.87,289.86C445.46,289.56 446.45,289.26 448.64,289.50C450.82,289.74 454.50,290.39 456.98,291.27C459.46,292.16 461.85,293.35 463.54,294.82C465.22,296.30 466.22,298.20 467.11,300.15C468.01,302.10 468.75,304.53 468.90,306.54C469.05,308.55 468.60,310.33 468.01,312.22C467.41,314.11 466.47,316.18 465.32,317.90C464.18,319.62 462.54,321.33 461.15,322.51C459.76,323.70 458.47,324.82 456.98,325.00C455.49,325.18 453.60,324.05 452.21,323.58C450.82,323.11 450.03,322.16 448.64,322.16C447.25,322.16 445.26,323.28 443.87,323.58C442.48,323.88 441.09,324.41 440.29,323.94C439.50,323.46 439.50,320.74 439.10,320.74C438.70,320.74 438.70,323.46 437.91,323.94C437.11,324.41 435.72,323.88 434.33,323.58C432.94,323.28 430.95,322.16 429.56,322.16C428.17,322.16 427.38,323.11 425.99,323.58C424.60,324.05 422.71,325.18 421.22,325.00C419.73,324.82 418.44,323.70 417.05,322.51C415.66,321.33 414.02,319.62 412.88,317.90C411.73,316.18 410.79,314.11 410.19,312.22C409.60,310.33 409.15,308.55 409.30,306.54C409.45,304.53 410.19,302.10 411.09,300.15C411.98,298.20 412.98,296.30 414.66,294.82C416.35,293.35 418.74,292.16 421.22,291.27C423.70,290.39 427.38,289.74 429.56,289.50C431.75,289.26 432.74,289.56 434.33,289.86C435.92,290.15 437.51,291.27 439.10,291.27Z" fill="#4c4c4c" filter="url(#bl1)"/>
<ellipse cx="439.1" cy="313.6" rx="10.2" ry="9.3" fill="#2b2b2b" filter="url(#bl2)"/>
<path d="M415.3,317.9 C408.1,300.1 421.2,290.2 439.1,290.9 C457.0,290.2 470.1,300.1 462.9,317.9" fill="none" stroke="#999999" stroke-width="2.4" filter="url(#bl1)"/>
<ellipse cx="426.0" cy="295.9" rx="3.3" ry="3.0" fill="#ffffff" filter="url(#bl05)"/>
<ellipse cx="452.2" cy="295.9" rx="3.3" ry="3.0" fill="#ffffff" filter="url(#bl05)"/>
<ellipse cx="439.1" cy="301.5" rx="1.8" ry="1.9" fill="#f2f2f2"/>
<ellipse cx="433.7" cy="294.6" rx="5.4" ry="2.8" fill="#1a1a1a" filter="url(#bl05)"/>
<ellipse cx="444.5" cy="294.6" rx="5.4" ry="2.8" fill="#1a1a1a" filter="url(#bl05)"/>
<path d="M439.1,309.9V321.5" stroke="#666666" stroke-width="0.6"/>
</g>
<g filter="url(#brownf)">
<path d="M175.90,352.32C177.83,352.32 179.75,350.85 181.68,350.46C183.60,350.08 184.80,349.69 187.45,350.00C190.10,350.31 194.55,351.16 197.56,352.32C200.57,353.49 203.46,355.04 205.50,356.98C207.55,358.91 208.75,361.39 209.83,363.95C210.92,366.51 211.82,369.69 212.00,372.32C212.18,374.95 211.64,377.28 210.92,379.76C210.20,382.24 209.05,384.95 207.67,387.20C206.28,389.45 204.30,391.69 202.61,393.25C200.93,394.80 199.37,396.27 197.56,396.50C195.75,396.73 193.47,395.26 191.78,394.64C190.10,394.02 189.14,392.78 187.45,392.78C185.77,392.78 183.36,394.25 181.68,394.64C179.99,395.03 178.31,395.73 177.34,395.11C176.38,394.49 176.38,390.92 175.90,390.92C175.42,390.92 175.42,394.49 174.46,395.11C173.49,395.73 171.81,395.03 170.12,394.64C168.44,394.25 166.03,392.78 164.35,392.78C162.66,392.78 161.70,394.02 160.02,394.64C158.33,395.26 156.05,396.73 154.24,396.50C152.44,396.27 150.87,394.80 149.19,393.25C147.50,391.69 145.52,389.45 144.13,387.20C142.75,384.95 141.61,382.24 140.88,379.76C140.16,377.28 139.62,374.95 139.80,372.32C139.98,369.69 140.88,366.51 141.97,363.95C143.05,361.39 144.25,358.91 146.30,356.98C148.34,355.04 151.23,353.49 154.24,352.32C157.25,351.16 161.70,350.31 164.35,350.00C167.00,349.69 168.20,350.08 170.12,350.46C172.05,350.85 173.97,352.32 175.90,352.32Z" fill="#060606" stroke="#242424" stroke-width="1.8"/>
<path d="M175.9,351.4V362.1" stroke="#333333" stroke-width="0.8"/>
<path d="M160,368.5 Q177,366 195,368" stroke="#6b6b6b" stroke-width="2.2" fill="none" filter="url(#bl05)"/>
<ellipse cx="165.2" cy="363.8" rx="5" ry="3.6" fill="none" stroke="#666666" stroke-width="1.4" filter="url(#bl05)"/>
<ellipse cx="189" cy="363" rx="5" ry="3.6" fill="none" stroke="#666666" stroke-width="1.4" filter="url(#bl05)"/>
</g>
<g filter="url(#brownf)">
<path d="M262.10,350.12C264.20,350.12 266.30,348.46 268.40,348.02C270.51,347.59 271.82,347.15 274.71,347.50C277.60,347.85 282.46,348.81 285.74,350.12C289.02,351.44 292.18,353.19 294.41,355.38C296.64,357.56 297.95,360.36 299.14,363.25C300.32,366.14 301.30,369.72 301.50,372.70C301.70,375.68 301.11,378.30 300.32,381.10C299.53,383.90 298.28,386.96 296.77,389.50C295.26,392.04 293.09,394.57 291.26,396.32C289.42,398.07 287.71,399.74 285.74,400.00C283.77,400.26 281.27,398.60 279.44,397.90C277.60,397.20 276.55,395.80 274.71,395.80C272.87,395.80 270.24,397.46 268.40,397.90C266.57,398.34 264.73,399.12 263.68,398.43C262.63,397.73 262.63,393.70 262.10,393.70C261.57,393.70 261.57,397.73 260.52,398.43C259.47,399.12 257.63,398.34 255.80,397.90C253.96,397.46 251.33,395.80 249.49,395.80C247.65,395.80 246.60,397.20 244.76,397.90C242.93,398.60 240.43,400.26 238.46,400.00C236.49,399.74 234.78,398.07 232.94,396.32C231.11,394.57 228.94,392.04 227.43,389.50C225.92,386.96 224.67,383.90 223.88,381.10C223.09,378.30 222.50,375.68 222.70,372.70C222.90,369.72 223.88,366.14 225.06,363.25C226.25,360.36 227.56,357.56 229.79,355.38C232.02,353.19 235.18,351.44 238.46,350.12C241.74,348.81 246.60,347.85 249.49,347.50C252.38,347.15 253.69,347.59 255.80,348.02C257.90,348.46 260.00,350.12 262.10,350.12Z" fill="#060606" stroke="#242424" stroke-width="1.8"/>
<path d="M262.1,349.1V361.1" stroke="#333333" stroke-width="0.8"/>
<path d="M250,363 L272,363 L262.5,374 Z" fill="#6b6b6b" filter="url(#bl05)"/>
<path d="M262.2,348 V363" stroke="#4c4c4c" stroke-width="1.2"/>
</g>
<g filter="url(#brownf)">
<path d="M347.10,349.90C349.10,349.90 351.10,348.25 353.10,347.82C355.10,347.39 356.35,346.95 359.10,347.30C361.85,347.65 366.48,348.60 369.60,349.90C372.73,351.19 375.73,352.92 377.85,355.09C379.98,357.25 381.23,360.02 382.35,362.87C383.48,365.72 384.41,369.27 384.60,372.21C384.79,375.15 384.23,377.75 383.48,380.52C382.73,383.28 381.54,386.31 380.10,388.82C378.66,391.33 376.60,393.84 374.85,395.57C373.10,397.30 371.48,398.94 369.60,399.20C367.73,399.46 365.35,397.82 363.60,397.12C361.85,396.43 360.85,395.05 359.10,395.05C357.35,395.05 354.85,396.69 353.10,397.12C351.35,397.56 349.60,398.34 348.60,397.64C347.60,396.95 347.60,392.97 347.10,392.97C346.60,392.97 346.60,396.95 345.60,397.64C344.60,398.34 342.85,397.56 341.10,397.12C339.35,396.69 336.85,395.05 335.10,395.05C333.35,395.05 332.35,396.43 330.60,397.12C328.85,397.82 326.48,399.46 324.60,399.20C322.73,398.94 321.10,397.30 319.35,395.57C317.60,393.84 315.54,391.33 314.10,388.82C312.66,386.31 311.48,383.28 310.73,380.52C309.98,377.75 309.41,375.15 309.60,372.21C309.79,369.27 310.73,365.72 311.85,362.87C312.98,360.02 314.23,357.25 316.35,355.09C318.48,352.92 321.48,351.19 324.60,349.90C327.73,348.60 332.35,347.65 335.10,347.30C337.85,346.95 339.10,347.39 341.10,347.82C343.10,348.25 345.10,349.90 347.10,349.90Z" fill="#060606" stroke="#242424" stroke-width="1.8"/>
<path d="M347.1,348.9V360.8" stroke="#333333" stroke-width="0.8"/>
<ellipse cx="338" cy="362.5" rx="9" ry="5" fill="#333333" stroke="#666666" stroke-width="1.3" filter="url(#bl05)"/>
<ellipse cx="357" cy="361.5" rx="9" ry="5" fill="#333333" stroke="#666666" stroke-width="1.3" filter="url(#bl05)"/>
<path d="M329,364 L334,368" stroke="#808080" stroke-width="1.5" filter="url(#bl05)"/>
</g>
<g filter="url(#brownf)">
<path d="M443.10,348.92C445.32,348.92 447.54,347.32 449.76,346.90C451.97,346.48 453.36,346.06 456.41,346.40C459.46,346.74 464.59,347.66 468.06,348.92C471.53,350.18 474.85,351.86 477.21,353.96C479.57,356.06 480.96,358.75 482.20,361.52C483.45,364.29 484.49,367.74 484.70,370.59C484.91,373.45 484.28,375.97 483.45,378.66C482.62,381.34 481.30,384.28 479.71,386.72C478.11,389.16 475.83,391.59 473.88,393.27C471.94,394.95 470.14,396.55 468.06,396.80C465.98,397.05 463.35,395.46 461.40,394.78C459.46,394.11 458.35,392.77 456.41,392.77C454.47,392.77 451.70,394.36 449.76,394.78C447.81,395.20 445.87,395.96 444.76,395.29C443.65,394.62 443.65,390.75 443.10,390.75C442.55,390.75 442.55,394.62 441.44,395.29C440.33,395.96 438.39,395.20 436.44,394.78C434.50,394.36 431.73,392.77 429.79,392.77C427.85,392.77 426.74,394.11 424.80,394.78C422.85,395.46 420.22,397.05 418.14,396.80C416.06,396.55 414.26,394.95 412.32,393.27C410.37,391.59 408.09,389.16 406.49,386.72C404.90,384.28 403.58,381.34 402.75,378.66C401.92,375.97 401.29,373.45 401.50,370.59C401.71,367.74 402.75,364.29 404.00,361.52C405.24,358.75 406.63,356.06 408.99,353.96C411.35,351.86 414.67,350.18 418.14,348.92C421.61,347.66 426.74,346.74 429.79,346.40C432.84,346.06 434.23,346.48 436.44,346.90C438.66,347.32 440.88,348.92 443.10,348.92Z" fill="#060606" stroke="#242424" stroke-width="1.8"/>
<path d="M443.1,347.9V359.5" stroke="#333333" stroke-width="0.8"/>
<path d="M432,360 Q441,357 451,360 L446,366 L442,368 L437,366 Z" fill="#525252" filter="url(#bl05)"/>
</g>
<ellipse cx="165.2" cy="363.8" rx="4" ry="2.8" fill="#fffefa" filter="url(#bl05)"/>
<ellipse cx="189" cy="363" rx="4" ry="2.8" fill="#fffefa" filter="url(#bl05)"/>
<ellipse cx="177" cy="369.5" rx="3" ry="1.8" fill="#fffefa" filter="url(#bl05)"/>
<ellipse cx="249.6" cy="364.6" rx="3.8" ry="3.2" fill="#fffefa" filter="url(#bl05)"/>
<ellipse cx="271.7" cy="364.6" rx="3.8" ry="3.2" fill="#fffefa" filter="url(#bl05)"/>
<ellipse cx="261.5" cy="369" rx="2.2" ry="1.6" fill="#fffefa" filter="url(#bl05)"/>
<ellipse cx="330.8" cy="361.8" rx="2.8" ry="2.8" fill="#fffefa" filter="url(#bl05)"/>
<ellipse cx="347.5" cy="366.2" rx="2.6" ry="2.4" fill="#fffefa" filter="url(#bl05)"/>
<ellipse cx="363" cy="359" rx="2.8" ry="2.4" fill="#fffefa" filter="url(#bl05)"/>
<ellipse cx="433.5" cy="360.8" rx="3.6" ry="3.2" fill="#fffefa" filter="url(#bl05)"/>
<ellipse cx="451.2" cy="360.8" rx="3.6" ry="3.2" fill="#fffefa" filter="url(#bl05)"/>
<g filter="url(#brownf2)">
<ellipse cx="201" cy="366" rx="9" ry="6" fill="#4c4c4c" filter="url(#bl2)"/>
<path d="M190,368.5 C194,364 206,364.5 209.5,373 C212,382 207,393 200,394 C193,394 188,387 187.8,379 C187.8,374 189,370.5 190,368.5Z" fill="#9e9e9e" filter="url(#bl05)"/>
<path d="M191.5,370 C195,366 205,366.5 208,374 C210,382 206,391 200,392 C194,392 190,386 189.8,379 C189.8,375 190.5,372 191.5,370Z" fill="#d1d1d1" filter="url(#bl05)"/>
<circle cx="284.2" cy="380.4" r="10" fill="#999999" filter="url(#bl05)"/>
<circle cx="284.2" cy="380.4" r="8.6" fill="#cccccc" filter="url(#bl05)"/>
</g>
<circle cx="294.4" cy="352.1" r="4.8" fill="#e2e2e2" stroke="#8a8a8a" stroke-width="0.7"/>
<defs>
<filter id="jetf" x="-5%" y="-5%" width="110%" height="110%" color-interpolation-filters="sRGB">
 <feTurbulence type="fractalNoise" baseFrequency="0.18" numOctaves="2" seed="3" result="dn"/>
 <feDisplacementMap in="SourceGraphic" in2="dn" scale="3.5" xChannelSelector="R" yChannelSelector="G" result="disp"/>
 <feGaussianBlur in="disp" stdDeviation="0.4" result="sg"/>
 <feTurbulence type="fractalNoise" baseFrequency="0.3" numOctaves="3" seed="7" result="n"/>
 <feColorMatrix in="n" type="matrix" values="1 0 0 0 0  1 0 0 0 0  1 0 0 0 0  0 0 0 0 1" result="ng"/>
 <feComposite in="sg" in2="ng" operator="arithmetic" k1="0.7" k2="0.65" k3="0" k4="0" result="sum"/>
 <feComposite in="sum" in2="sg" operator="in" result="cl"/>
 <feComponentTransfer in="cl">
  <feFuncR type="table" tableValues="0 0 0 0 0.5 1 1 1 0.5"/>
  <feFuncG type="table" tableValues="0 0 0.5 1 1 1 0.5 0 0"/>
  <feFuncB type="table" tableValues="0.5 1 1 1 0.5 0 0 0 0"/>
 </feComponentTransfer>
</filter>
<filter id="speck" x="-5%" y="-5%" width="110%" height="110%" color-interpolation-filters="sRGB">
 <feTurbulence type="fractalNoise" baseFrequency="0.42" numOctaves="2" seed="13" result="n"/>
 <feColorMatrix in="n" type="matrix" values="0 0 0 0 0  0 0 0 0 0.02  0 0 0 0 0.9  8 0 0 0 -5.0" result="m"/>
 <feComposite in="m" in2="SourceAlpha" operator="in"/>
</filter>
<filter id="speck2" x="-5%" y="-5%" width="110%" height="110%" color-interpolation-filters="sRGB">
 <feTurbulence type="fractalNoise" baseFrequency="0.3" numOctaves="2" seed="17" result="n"/>
 <feColorMatrix in="n" type="matrix" values="0 0 0 0 0.02  0 0 0 0 0.05  0 0 0 0 0.92  8 0 0 0 -3.2" result="m"/>
 <feComposite in="m" in2="SourceAlpha" operator="in"/>
</filter>
<filter id="b06"><feGaussianBlur stdDeviation="0.6"/></filter>
<filter id="b10"><feGaussianBlur stdDeviation="1.0"/></filter>
<filter id="b15"><feGaussianBlur stdDeviation="1.5"/></filter>
<filter id="b22"><feGaussianBlur stdDeviation="2.2"/></filter>
</defs>
<clipPath id="cl00"><rect x="32.10" y="36.00" width="49.7" height="64.2"/></clipPath>
<g clip-path="url(#cl00)">
<rect x="32.10" y="36.00" width="49.7" height="64.2" fill="#6b6b6b" stroke="#555" stroke-width="1"/>
<g transform="translate(32.10,36.00)">
<ellipse cx="24.8" cy="33.3" rx="22.6" ry="23.3" fill="none" stroke="#fff" stroke-width="7" filter="url(#speck)"/>
<rect x="8" y="0" width="34" height="7" fill="#fff" filter="url(#speck)"/>
<ellipse cx="24.8" cy="33.3" rx="24.6" ry="24.3" fill="none" stroke="#1a8cff" stroke-width="0.9" opacity="0.95"/>
<g filter="url(#jetf)">
<path d="M24.50,9.20 C33.74,9.20 42.10,21.48 42.10,36.48 C42.10,48.76 35.94,58.80 24.50,58.80 C13.06,58.80 6.90,48.76 6.90,36.48 C6.90,21.48 15.26,9.20 24.50,9.20Z" fill="#1c1c1c"/>
<path d="M24.50,11.20 C32.69,11.20 40.10,22.49 40.10,36.28 C40.10,47.57 34.64,56.80 24.50,56.80 C14.36,56.80 8.90,47.57 8.90,36.28 C8.90,22.49 16.31,11.20 24.50,11.20Z" fill="#333333" filter="url(#b10)"/>
<path d="M24.50,9.80 C28.64,9.80 38.30,23.29 38.30,39.77 C38.30,47.71 34.85,54.20 24.50,54.20 C14.15,54.20 10.70,47.71 10.70,39.77 C10.70,23.29 20.36,9.80 24.50,9.80Z" fill="#5e5e5e" filter="url(#b06)"/>
<path d="M24.50,12.50 C27.50,12.50 36.50,24.65 36.50,39.50 C36.50,46.65 33.20,52.50 24.50,52.50 C15.80,52.50 12.50,46.65 12.50,39.50 C12.50,24.65 21.50,12.50 24.50,12.50Z" fill="#999999" filter="url(#b10)"/>
<path d="M24.8,12 C28.2,22.8 36.3,35.4 36.3,48 Q24.8,51 13.3,48 C13.3,35.4 21.4,22.8 24.8,12Z" fill="#adadad" filter="url(#b15)"/>
<path d="M25,20 C26.8,27.2 31.0,35.6 31.0,44 Q25,47 19.0,44 C19.0,35.6 23.2,27.2 25,20Z" fill="#cccccc" filter="url(#b15)"/>
<ellipse cx="25.5" cy="38" rx="4" ry="5" fill="#dbdbdb" filter="url(#b10)"/>
<path d="M19.5,13.2Q25.0,12.7 30.5,13.5M25.0,13.5L24.8,17.8L25.2,22.1L25.2,26.4L24.3,30.8L24.2,35.1L25.5,39.4L24.6,43.7L24.6,48.0" fill="none" stroke="#f7f7f7" stroke-width="1.62" stroke-linecap="round"/><path d="M24.8,17.8Q27.9,18.7 30.4,21.1M25.2,22.1Q23.9,23.1 22.3,24.9M25.2,26.4Q22.1,28.1 17.8,30.1M25.2,26.4Q28.4,27.0 29.7,27.8M24.3,30.8Q21.8,34.4 17.6,36.6M24.2,35.1Q29.0,36.4 32.5,37.5M25.5,39.4Q20.5,41.2 16.8,43.8M25.5,39.4Q30.3,39.6 34.2,40.6M24.6,43.7Q18.3,46.1 13.7,48.0" fill="none" stroke="#f7f7f7" stroke-width="1.20" stroke-linecap="round"/><path d="M27.9,18.7l3.0,2.0M23.9,23.1l-1.7,1.5M28.4,27.0l1.7,0.6M28.4,27.0l1.7,0.9M21.8,34.4l-0.4,3.1M29.0,36.4l1.5,2.3M18.3,46.1l-4.1,0.8M18.3,46.1l-3.5,-2.1" fill="none" stroke="#e8e8e8" stroke-width="0.84" stroke-linecap="round"/>
</g>
</g></g>
<clipPath id="cl01"><rect x="84.15" y="36.00" width="49.7" height="64.2"/></clipPath>
<g clip-path="url(#cl01)">
<rect x="84.15" y="36.00" width="49.7" height="64.2" fill="#6b6b6b" stroke="#555" stroke-width="1"/>
<g transform="translate(84.15,36.00)">
<ellipse cx="24.5" cy="33" rx="22" ry="26" fill="none" stroke="#fff" stroke-width="7" filter="url(#speck)"/>
<rect x="8" y="0" width="34" height="7" fill="#fff" filter="url(#speck)"/>
<ellipse cx="24.5" cy="33" rx="24" ry="27" fill="none" stroke="#1a8cff" stroke-width="0.9" opacity="0.95"/>
<g filter="url(#jetf)">
<path d="M24.50,8.20 C35.66,8.20 43.90,20.38 43.90,35.26 C43.90,47.44 37.59,57.40 24.50,57.40 C11.40,57.40 5.10,47.44 5.10,35.26 C5.10,20.38 13.34,8.20 24.50,8.20Z" fill="#1c1c1c"/>
<path d="M24.50,10.20 C34.51,10.20 41.90,21.39 41.90,35.06 C41.90,46.25 36.25,55.40 24.50,55.40 C12.75,55.40 7.10,46.25 7.10,35.06 C7.10,21.39 14.49,10.20 24.50,10.20Z" fill="#333333" filter="url(#b10)"/>
<ellipse cx="12" cy="31" rx="8" ry="20" fill="#1d1d1d" filter="url(#b15)"/>
<path d="M29.50,7.00 C33.73,7.00 42.50,20.45 42.50,36.90 C42.50,45.75 39.58,53.00 29.50,53.00 C19.42,53.00 16.50,45.75 16.50,36.90 C16.50,20.45 25.27,7.00 29.50,7.00Z" fill="#5e5e5e" filter="url(#b06)"/>
<path d="M30.20,10.00 C33.35,10.00 40.70,21.70 40.70,36.00 C40.70,43.70 37.81,50.00 30.20,50.00 C22.59,50.00 19.70,43.70 19.70,36.00 C19.70,21.70 27.05,10.00 30.20,10.00Z" fill="#999999" filter="url(#b10)"/>
<ellipse cx="25" cy="48.5" rx="12" ry="4.5" fill="#5e5e5e" filter="url(#b10)"/>
<ellipse cx="26" cy="45.5" rx="10" ry="3.2" fill="#949494" filter="url(#b10)"/>
<ellipse cx="30.5" cy="30" rx="7" ry="14" fill="#a3a3a3" filter="url(#b22)"/>
<ellipse cx="31" cy="33" rx="4" ry="8" fill="#c2c2c2" filter="url(#b22)"/>
<path d="M22.3,13.3Q26.8,12.8 31.3,13.2M26.8,13.6L26.6,17.7L26.2,21.8L26.1,25.9L26.6,30.0L27.5,34.2L27.3,38.3L27.2,42.4L26.4,46.5" fill="none" stroke="#f7f7f7" stroke-width="1.62" stroke-linecap="round"/><path d="M26.6,17.7Q24.1,17.6 23.2,18.6M26.6,17.7Q28.7,18.7 31.6,19.1M26.2,21.8Q28.2,22.8 30.1,25.1M26.1,25.9Q24.9,28.5 23.4,29.5M26.1,25.9Q28.6,25.7 29.8,27.4M26.6,30.0Q29.5,30.3 31.7,31.5M27.5,34.2Q26.0,35.4 24.0,37.7M27.3,38.3Q22.5,39.7 18.6,39.3M27.3,38.3Q29.9,38.3 32.7,39.8M27.2,42.4Q23.4,44.5 21.2,44.6M27.2,42.4Q28.8,44.6 31.3,44.8" fill="none" stroke="#f7f7f7" stroke-width="1.20" stroke-linecap="round"/><path d="M28.2,22.8l-0.0,1.7M24.9,28.5l-0.8,1.7M28.6,25.7l1.9,-0.1M28.6,25.7l1.7,0.1M29.5,30.3l2.8,-0.2M29.5,30.3l2.6,-1.5M26.0,35.4l-1.3,1.1M26.0,35.4l0.0,2.5M22.5,39.7l-4.8,1.8M29.9,38.3l3.3,-0.2M29.9,38.3l1.6,-0.7M23.4,44.5l-2.0,-1.2M23.4,44.5l-1.7,1.5M28.8,44.6l1.0,1.9M28.8,44.6l2.5,1.4" fill="none" stroke="#e8e8e8" stroke-width="0.84" stroke-linecap="round"/>
</g>
</g></g>
<clipPath id="cl02"><rect x="136.20" y="36.00" width="49.7" height="64.2"/></clipPath>
<g clip-path="url(#cl02)">
<rect x="136.20" y="36.00" width="49.7" height="64.2" fill="#6b6b6b" stroke="#555" stroke-width="1"/>
<g transform="translate(136.20,36.00)">
<ellipse cx="24.5" cy="35" rx="22" ry="25" fill="none" stroke="#fff" stroke-width="7" filter="url(#speck)"/>
<rect x="8" y="0" width="34" height="7" fill="#fff" filter="url(#speck)"/>
<ellipse cx="28.0" cy="6.5" rx="12.0" ry="5.5" fill="#fff" filter="url(#speck2)"/>
<ellipse cx="24.5" cy="35" rx="24" ry="26" fill="none" stroke="#1a8cff" stroke-width="0.9" opacity="0.95"/>
<g filter="url(#jetf)">
<path d="M26.00,12.00 C36.35,12.00 46.70,24.94 46.70,40.75 C46.70,52.44 39.97,62.00 26.00,62.00 C12.03,62.00 5.30,52.44 5.30,40.75 C5.30,24.94 15.65,12.00 26.00,12.00Z" fill="#1c1c1c"/>
<path d="M26.00,14.00 C35.35,14.00 44.70,25.90 44.70,40.45 C44.70,51.20 38.62,60.00 26.00,60.00 C13.38,60.00 7.30,51.20 7.30,40.45 C7.30,25.90 16.65,14.00 26.00,14.00Z" fill="#333333" filter="url(#b10)"/>
<path d="M25.20,12.00 C31.35,12.00 41.60,25.22 41.60,41.38 C41.60,51.07 37.09,59.00 25.20,59.00 C13.31,59.00 8.80,51.07 8.80,41.38 C8.80,25.22 19.05,12.00 25.20,12.00Z" fill="#5e5e5e" filter="url(#b06)"/>
<ellipse cx="20" cy="36" rx="9" ry="18" fill="#707070" filter="url(#b15)"/>
<ellipse cx="31.5" cy="35" rx="9" ry="17" fill="#9e9e9e" filter="url(#b15)"/>
<ellipse cx="32" cy="35" rx="6.5" ry="14" fill="#c7c7c7" filter="url(#b22)"/>
<ellipse cx="24" cy="51" rx="9" ry="3.5" fill="#c7c7c7" filter="url(#b10)"/>
<path d="M22.8,20.8Q26.8,19.9 30.8,20.9M26.8,20.7L27.3,24.3L27.5,27.9L27.2,31.5L27.5,35.1L26.0,38.8L26.7,42.4L27.5,46.0L27.0,49.6" fill="none" stroke="#f7f7f7" stroke-width="1.62" stroke-linecap="round"/><path d="M27.3,24.3Q29.1,25.0 30.8,25.5M27.5,27.9Q25.7,29.3 25.3,30.2M27.2,31.5Q25.0,32.6 22.1,34.9M27.2,31.5Q28.5,31.2 31.2,32.6M27.5,35.1Q25.1,36.5 22.9,37.0M27.5,35.1Q28.3,36.5 29.8,37.5M26.0,38.8Q25.0,41.1 22.2,44.0M26.7,42.4Q22.6,43.3 19.1,43.8M26.7,42.4Q28.4,42.3 31.7,43.7M27.5,46.0Q26.1,47.4 23.4,49.0M27.5,46.0Q29.9,49.6 31.8,52.0" fill="none" stroke="#f7f7f7" stroke-width="1.20" stroke-linecap="round"/><path d="M29.1,25.0l1.3,-0.2M25.7,29.3l-0.0,1.0M25.7,29.3l0.2,1.1M25.0,32.6l-0.7,3.6M28.5,31.2l1.5,-1.4M28.5,31.2l1.7,-0.2M25.1,36.5l-2.5,-1.6M28.3,36.5l1.0,0.2M25.0,41.1l-0.2,2.9M25.0,41.1l-0.1,3.4M22.6,43.3l-4.3,1.2M28.4,42.3l2.8,-1.2M28.4,42.3l2.9,1.0M26.1,47.4l-0.2,1.6M26.1,47.4l-0.6,2.2M29.9,49.6l3.1,0.8" fill="none" stroke="#e8e8e8" stroke-width="0.84" stroke-linecap="round"/>
</g>
</g></g>
<clipPath id="cl03"><rect x="188.25" y="36.00" width="49.7" height="64.2"/></clipPath>
<g clip-path="url(#cl03)">
<rect x="188.25" y="36.00" width="49.7" height="64.2" fill="#6b6b6b" stroke="#555" stroke-width="1"/>
<g transform="translate(188.25,36.00)">
<ellipse cx="24.8" cy="33.5" rx="22.6" ry="25.5" fill="none" stroke="#fff" stroke-width="7" filter="url(#speck)"/>
<rect x="8" y="0" width="34" height="7" fill="#fff" filter="url(#speck)"/>
<ellipse cx="24.8" cy="33.5" rx="24.6" ry="26.5" fill="none" stroke="#1a8cff" stroke-width="0.9" opacity="0.95"/>
<g filter="url(#jetf)">
<path d="M24.75,5.30 C33.90,5.30 43.05,18.34 43.05,34.28 C43.05,46.06 37.10,55.70 24.75,55.70 C12.40,55.70 6.45,46.06 6.45,34.28 C6.45,18.34 15.60,5.30 24.75,5.30Z" fill="#1c1c1c"/>
<path d="M24.75,7.30 C32.90,7.30 41.05,19.31 41.05,33.98 C41.05,44.83 35.75,53.70 24.75,53.70 C13.75,53.70 8.45,44.83 8.45,33.98 C8.45,19.31 16.60,7.30 24.75,7.30Z" fill="#333333" filter="url(#b10)"/>
<path d="M24.80,9.00 C30.54,9.00 41.20,22.22 41.20,38.38 C41.20,47.08 37.10,54.20 24.80,54.20 C12.50,54.20 8.40,47.08 8.40,38.38 C8.40,22.22 19.06,9.00 24.80,9.00Z" fill="#5e5e5e" filter="url(#b06)"/>
<path d="M24.80,13.60 C29.38,13.60 38.90,24.83 38.90,38.56 C38.90,45.95 35.02,52.00 24.80,52.00 C14.58,52.00 10.70,45.95 10.70,38.56 C10.70,24.83 20.22,13.60 24.80,13.60Z" fill="#999999" filter="url(#b10)"/>
<path d="M25,14 C28.3,23.3 36.0,34.1 36.0,45 Q25,48 14.0,45 C14.0,34.1 21.7,23.3 25,14Z" fill="#b2b2b2" filter="url(#b15)"/>
<ellipse cx="25.5" cy="29" rx="7" ry="9" fill="#d6d6d6" filter="url(#b22)"/>
<path d="M20.5,17.1Q25.0,16.0 29.5,17.1M25.0,16.8L25.0,20.3L24.6,23.9L24.2,27.4L25.3,30.9L25.0,34.4L25.4,38.0L24.8,41.5L25.4,45.0" fill="none" stroke="#f7f7f7" stroke-width="1.62" stroke-linecap="round"/><path d="M25.0,20.3Q22.9,22.2 21.2,23.9M25.0,20.3Q27.6,21.7 28.9,23.7M24.6,23.9Q23.6,24.9 22.3,27.1M24.6,23.9Q27.2,26.5 28.5,27.3M24.2,27.4Q25.3,28.0 27.1,29.8M25.3,30.9Q23.0,31.9 22.7,33.6M25.3,30.9Q25.5,32.5 27.5,34.4M25.4,38.0Q22.4,40.6 18.0,42.0M25.4,38.0Q27.0,39.4 30.0,42.7M24.8,41.5Q22.9,43.6 20.6,46.6M24.8,41.5Q27.9,44.5 29.2,48.0" fill="none" stroke="#f7f7f7" stroke-width="1.20" stroke-linecap="round"/><path d="M22.9,22.2l-1.2,1.4M27.6,21.7l0.7,2.7M27.6,21.7l1.7,0.2M23.6,24.9l0.4,1.6M27.2,26.5l1.3,1.7M27.2,26.5l2.5,-0.2M25.3,28.0l1.3,0.1M23.0,31.9l-1.2,0.8M25.5,32.5l2.2,1.2M22.4,40.6l-2.3,3.0M22.4,40.6l-1.5,2.3M27.0,39.4l2.7,1.6M27.0,39.4l-0.3,2.8M22.9,43.6l-2.9,0.5M22.9,43.6l-0.2,2.6M27.9,44.5l2.2,2.2M27.9,44.5l-1.2,4.1" fill="none" stroke="#e8e8e8" stroke-width="0.84" stroke-linecap="round"/>
</g>
</g></g>
<clipPath id="cl04"><rect x="240.30" y="36.00" width="49.7" height="64.2"/></clipPath>
<g clip-path="url(#cl04)">
<rect x="240.30" y="36.00" width="49.7" height="64.2" fill="#6b6b6b" stroke="#555" stroke-width="1"/>
<g transform="translate(240.30,36.00)">
<ellipse cx="24.8" cy="34" rx="22.5" ry="25" fill="none" stroke="#fff" stroke-width="7" filter="url(#speck)"/>
<rect x="8" y="0" width="34" height="7" fill="#fff" filter="url(#speck)"/>
<ellipse cx="24.8" cy="34" rx="24.5" ry="26" fill="none" stroke="#1a8cff" stroke-width="0.9" opacity="0.95"/>
<g filter="url(#jetf)">
<path d="M24.30,8.40 C35.76,8.40 43.40,20.48 43.40,35.24 C43.40,47.32 37.19,57.20 24.30,57.20 C11.41,57.20 5.20,47.32 5.20,35.24 C5.20,20.48 12.84,8.40 24.30,8.40Z" fill="#1c1c1c"/>
<path d="M24.30,10.40 C34.56,10.40 41.40,21.49 41.40,35.04 C41.40,46.13 35.84,55.20 24.30,55.20 C12.76,55.20 7.20,46.13 7.20,35.04 C7.20,21.49 14.04,10.40 24.30,10.40Z" fill="#333333" filter="url(#b10)"/>
<path d="M24.70,9.70 C33.94,9.70 41.50,21.09 41.50,35.00 C41.50,45.28 36.88,53.70 24.70,53.70 C12.52,53.70 7.90,45.28 7.90,35.00 C7.90,21.09 15.46,9.70 24.70,9.70Z" fill="#5e5e5e" filter="url(#b06)"/>
<ellipse cx="24.7" cy="32" rx="14" ry="19" fill="#707070" filter="url(#b15)"/>
<ellipse cx="24" cy="31" rx="8" ry="12" fill="#8a8a8a" filter="url(#b22)"/>
<path d="M17.7,15.8Q22.7,15.2 27.7,15.7M22.7,16.0L22.9,19.6L22.0,23.2L22.8,26.9L22.5,30.5L22.0,34.1L22.7,37.8L22.0,41.4L22.6,45.0" fill="none" stroke="#f7f7f7" stroke-width="1.62" stroke-linecap="round"/><path d="M22.9,19.6Q22.1,19.6 20.0,21.2M22.9,19.6Q25.0,19.9 28.5,21.7M22.0,23.2Q19.6,23.9 18.4,23.8M22.0,23.2Q23.8,25.2 25.5,25.7M22.8,26.9Q19.4,26.8 16.1,28.5M22.8,26.9Q25.6,28.7 28.1,30.8M22.5,30.5Q19.4,31.3 15.5,31.6M22.5,30.5Q23.7,32.3 26.9,34.2M22.0,34.1Q20.2,34.5 17.0,36.6M22.7,37.8Q20.3,40.1 16.4,40.6M22.7,37.8Q24.6,39.0 26.9,39.9M22.0,41.4Q20.9,44.2 18.7,45.6M22.0,41.4Q24.0,41.1 27.3,42.2" fill="none" stroke="#f7f7f7" stroke-width="1.20" stroke-linecap="round"/><path d="M22.1,19.6l-0.3,1.6M22.1,19.6l-0.2,1.4M25.0,19.9l3.1,-0.9M25.0,19.9l2.9,0.3M19.6,23.9l-1.3,0.5M19.6,23.9l-1.0,1.0M23.8,25.2l2.5,-0.4M19.4,26.8l-3.4,1.4M23.7,32.3l1.9,-0.3M20.2,34.5l-0.9,2.4M20.3,40.1l-2.4,-0.3M20.3,40.1l-2.5,1.7M24.6,39.0l1.6,1.4M20.9,44.2l-2.2,0.3M24.0,41.1l1.1,-1.3M24.0,41.1l1.8,-0.2" fill="none" stroke="#e8e8e8" stroke-width="0.84" stroke-linecap="round"/>
</g>
</g></g>
<clipPath id="cl10"><rect x="32.10" y="103.10" width="49.7" height="63.6"/></clipPath>
<g clip-path="url(#cl10)">
<rect x="32.10" y="103.10" width="49.7" height="63.6" fill="#6b6b6b" stroke="#555" stroke-width="1"/>
<g transform="translate(32.10,103.10)">
<ellipse cx="24.8" cy="34" rx="22.6" ry="25" fill="none" stroke="#fff" stroke-width="7" filter="url(#speck)"/>
<rect x="8" y="0" width="34" height="7" fill="#fff" filter="url(#speck)"/>
<ellipse cx="24.8" cy="34" rx="24.6" ry="26" fill="none" stroke="#1a8cff" stroke-width="0.9" opacity="0.95"/>
<g filter="url(#jetf)">
<path d="M24.90,8.30 C36.12,8.30 43.60,20.77 43.60,36.02 C43.60,48.49 37.52,58.70 24.90,58.70 C12.28,58.70 6.20,48.49 6.20,36.02 C6.20,20.77 13.68,8.30 24.90,8.30Z" fill="#1c1c1c"/>
<path d="M24.90,10.30 C34.92,10.30 41.60,21.78 41.60,35.82 C41.60,47.30 36.17,56.70 24.90,56.70 C13.63,56.70 8.20,47.30 8.20,35.82 C8.20,21.78 14.88,10.30 24.90,10.30Z" fill="#333333" filter="url(#b10)"/>
<path d="M24.90,10.40 C33.70,10.40 40.20,22.35 40.20,36.97 C40.20,47.76 35.99,56.60 24.90,56.60 C13.81,56.60 9.60,47.76 9.60,36.97 C9.60,22.35 16.10,10.40 24.90,10.40Z" fill="#5e5e5e" filter="url(#b06)"/>
<path d="M25.30,12.00 C32.62,12.00 38.60,22.35 38.60,35.00 C38.60,44.35 34.94,52.00 25.30,52.00 C15.66,52.00 12.00,44.35 12.00,35.00 C12.00,22.35 17.98,12.00 25.30,12.00Z" fill="#999999" filter="url(#b10)"/>
<path d="M25.5,11 C29.2,21.8 38.0,34.4 38.0,47 Q25.5,50 13.0,47 C13.0,34.4 21.8,21.8 25.5,11Z" fill="#adadad" filter="url(#b15)"/>
<path d="M25.5,17 C27.6,24.8 32.5,33.9 32.5,43 Q25.5,46 18.5,43 C18.5,33.9 23.4,24.8 25.5,17Z" fill="#cccccc" filter="url(#b15)"/>
<path d="M21.0,14.8Q26.0,14.2 31.0,15.2M26.0,15.0L26.3,18.6L26.6,22.2L25.5,25.9L25.6,29.5L25.4,33.1L25.6,36.8L26.4,40.4L25.4,44.0" fill="none" stroke="#f7f7f7" stroke-width="1.62" stroke-linecap="round"/><path d="M26.3,18.6Q24.4,20.0 22.8,20.0M26.3,18.6Q29.3,21.2 30.5,22.7M26.6,22.2Q24.2,22.9 22.0,24.3M26.6,22.2Q27.8,24.5 30.5,26.1M25.5,25.9Q22.9,25.9 20.3,27.0M25.5,25.9Q26.6,27.9 29.4,31.3M25.6,29.5Q24.2,31.4 21.3,31.7M25.6,29.5Q27.1,31.9 28.2,33.4M25.4,33.1Q23.0,33.1 19.8,34.6M25.4,33.1Q27.4,34.7 31.4,34.2M25.6,36.8Q20.7,37.2 16.5,37.7M25.6,36.8Q28.5,38.5 29.7,39.3M26.4,40.4Q22.9,40.4 20.0,42.2M26.4,40.4Q29.2,42.1 32.8,44.8" fill="none" stroke="#f7f7f7" stroke-width="1.20" stroke-linecap="round"/><path d="M24.4,20.0l-1.1,-0.1M24.4,20.0l-1.2,1.8M29.3,21.2l2.4,2.2M24.2,22.9l-1.4,2.3M27.8,24.5l1.9,0.3M27.8,24.5l1.6,1.3M22.9,25.9l-1.9,-0.1M22.9,25.9l-1.1,2.4M24.2,31.4l-2.6,0.6M27.1,31.9l1.0,2.1M27.1,31.9l0.3,1.9M23.0,33.1l-1.6,1.0M23.0,33.1l-2.1,-1.7M27.4,34.7l2.3,-0.7M27.4,34.7l1.9,0.2M20.7,37.2l-3.6,1.7M28.5,38.5l0.8,2.3M28.5,38.5l2.3,0.6M22.9,40.4l-1.5,1.6M22.9,40.4l-1.4,1.5M29.2,42.1l0.6,2.6M29.2,42.1l4.2,0.2" fill="none" stroke="#e8e8e8" stroke-width="0.84" stroke-linecap="round"/>
</g>
</g></g>
<clipPath id="cl11"><rect x="84.15" y="103.10" width="49.7" height="63.6"/></clipPath>
<g clip-path="url(#cl11)">
<rect x="84.15" y="103.10" width="49.7" height="63.6" fill="#6b6b6b" stroke="#555" stroke-width="1"/>
<g transform="translate(84.15,103.10)">
<ellipse cx="24.5" cy="34" rx="22" ry="26" fill="none" stroke="#fff" stroke-width="7" filter="url(#speck)"/>
<rect x="8" y="0" width="34" height="7" fill="#fff" filter="url(#speck)"/>
<ellipse cx="24.5" cy="34" rx="24" ry="27" fill="none" stroke="#1a8cff" stroke-width="0.9" opacity="0.95"/>
<g filter="url(#jetf)">
<path d="M24.00,8.30 C35.67,8.30 44.30,20.58 44.30,35.58 C44.30,47.86 37.70,57.90 24.00,57.90 C10.30,57.90 3.70,47.86 3.70,35.58 C3.70,20.58 12.33,8.30 24.00,8.30Z" fill="#1c1c1c"/>
<path d="M24.00,10.30 C34.52,10.30 42.30,21.59 42.30,35.38 C42.30,46.67 36.35,55.90 24.00,55.90 C11.65,55.90 5.70,46.67 5.70,35.38 C5.70,21.59 13.48,10.30 24.00,10.30Z" fill="#333333" filter="url(#b10)"/>
<ellipse cx="12" cy="32" rx="8" ry="19" fill="#1d1d1d" filter="url(#b15)"/>
<path d="M29.90,9.50 C35.88,9.50 43.20,22.72 43.20,38.88 C43.20,48.57 40.21,56.50 29.90,56.50 C19.59,56.50 16.60,48.57 16.60,38.88 C16.60,22.72 23.91,9.50 29.90,9.50Z" fill="#5e5e5e" filter="url(#b06)"/>
<path d="M30.00,14.00 C34.00,14.00 40.00,24.69 40.00,37.75 C40.00,45.59 37.25,52.00 30.00,52.00 C22.75,52.00 20.00,45.59 20.00,37.75 C20.00,24.69 26.00,14.00 30.00,14.00Z" fill="#999999" filter="url(#b10)"/>
<ellipse cx="25" cy="50" rx="12" ry="5" fill="#5e5e5e" filter="url(#b10)"/>
<ellipse cx="25" cy="46" rx="10" ry="3.5" fill="#949494" filter="url(#b10)"/>
<ellipse cx="30" cy="31.5" rx="8" ry="16" fill="#a3a3a3" filter="url(#b22)"/>
<ellipse cx="30.5" cy="36" rx="4" ry="8" fill="#c2c2c2" filter="url(#b22)"/>
<path d="M24.5,14.6Q28.5,14.2 32.5,15.2M28.5,15.0L28.7,19.1L29.2,23.2L28.1,27.4L28.1,31.5L28.9,35.6L28.8,39.8L28.2,43.9L28.8,48.0" fill="none" stroke="#f7f7f7" stroke-width="1.62" stroke-linecap="round"/><path d="M28.7,19.1Q26.0,20.4 24.3,20.1M28.7,19.1Q29.1,19.7 31.0,20.9M29.2,23.2Q26.4,25.2 25.2,26.7M29.2,23.2Q30.1,24.6 32.1,24.8M28.1,27.4Q25.9,28.2 25.3,29.2M28.1,27.4Q31.0,29.0 32.4,28.8M28.1,31.5Q30.8,32.3 31.8,34.1M28.9,35.6Q27.7,37.2 26.3,39.6M28.9,35.6Q31.7,35.8 33.0,36.9M28.8,39.8Q27.4,42.3 25.1,44.9M28.8,39.8Q32.8,41.3 35.3,42.4M28.2,43.9Q24.2,44.6 21.2,45.5M28.2,43.9Q31.1,43.7 33.1,45.0" fill="none" stroke="#f7f7f7" stroke-width="1.20" stroke-linecap="round"/><path d="M26.0,20.4l-1.2,1.2M26.0,20.4l-1.5,0.5M29.1,19.7l-0.1,1.0M29.1,19.7l1.5,0.9M26.4,25.2l-1.9,-0.2M30.1,24.6l0.4,1.0M30.1,24.6l1.1,-0.5M25.9,28.2l-1.4,0.7M25.9,28.2l-1.0,1.0M31.0,29.0l1.2,1.0M31.0,29.0l1.0,0.9M30.8,32.3l1.0,1.2M30.8,32.3l1.6,0.6M27.7,37.2l-1.8,0.1M31.7,35.8l0.9,1.9M31.7,35.8l2.3,0.1M27.4,42.3l0.8,2.5M32.8,41.3l3.9,1.3M32.8,41.3l2.4,-1.1M24.2,44.6l-2.1,2.1M24.2,44.6l-2.9,0.2M31.1,43.7l1.6,0.9M31.1,43.7l0.9,1.8" fill="none" stroke="#e8e8e8" stroke-width="0.84" stroke-linecap="round"/>
</g>
</g></g>
<clipPath id="cl12"><rect x="136.20" y="103.10" width="49.7" height="63.6"/></clipPath>
<g clip-path="url(#cl12)">
<rect x="136.20" y="103.10" width="49.7" height="63.6" fill="#6b6b6b" stroke="#555" stroke-width="1"/>
<g transform="translate(136.20,103.10)">
<ellipse cx="24.5" cy="33.5" rx="22" ry="25.5" fill="none" stroke="#fff" stroke-width="7" filter="url(#speck)"/>
<rect x="8" y="0" width="34" height="7" fill="#fff" filter="url(#speck)"/>
<ellipse cx="24.5" cy="33.5" rx="24" ry="26.5" fill="none" stroke="#1a8cff" stroke-width="0.9" opacity="0.95"/>
<g filter="url(#jetf)">
<path d="M23.20,5.90 C34.87,5.90 43.50,18.77 43.50,34.50 C43.50,47.37 36.90,57.90 23.20,57.90 C9.50,57.90 2.90,47.37 2.90,34.50 C2.90,18.77 11.53,5.90 23.20,5.90Z" fill="#1c1c1c"/>
<path d="M23.20,7.90 C33.72,7.90 41.50,19.78 41.50,34.30 C41.50,46.18 35.55,55.90 23.20,55.90 C10.85,55.90 4.90,46.18 4.90,34.30 C4.90,19.78 12.68,7.90 23.20,7.90Z" fill="#333333" filter="url(#b10)"/>
<path d="M24.80,9.60 C34.46,9.60 43.20,21.76 43.20,36.62 C43.20,47.61 38.14,56.60 24.80,56.60 C11.46,56.60 6.40,47.61 6.40,36.62 C6.40,21.76 15.14,9.60 24.80,9.60Z" fill="#5e5e5e" filter="url(#b06)"/>
<ellipse cx="25.5" cy="33" rx="16" ry="21" fill="#8c8c8c" filter="url(#b15)"/>
<ellipse cx="21" cy="26" rx="4" ry="4" fill="#666666" filter="url(#b10)"/>
<ellipse cx="32" cy="30" rx="5" ry="12" fill="#c7c7c7" filter="url(#b15)"/>
<ellipse cx="23" cy="42.5" rx="8" ry="4" fill="#d6d6d6" filter="url(#b10)"/>
<path d="M25.0,15.5Q29.0,14.2 33.0,14.5M29.0,15.0L29.4,18.6L28.5,22.2L29.8,25.9L28.2,29.5L29.6,33.1L29.3,36.8L29.6,40.4L29.8,44.0" fill="none" stroke="#f7f7f7" stroke-width="1.62" stroke-linecap="round"/><path d="M29.4,18.6Q27.7,19.3 26.9,20.9M29.4,18.6Q30.9,19.8 33.6,21.2M28.5,22.2Q28.2,23.7 25.9,25.3M29.8,25.9Q27.3,27.6 24.8,27.7M29.8,25.9Q32.9,26.2 34.2,27.1M28.2,29.5Q27.8,30.8 26.1,32.3M29.6,33.1Q28.1,34.3 25.0,33.8M29.6,33.1Q31.0,34.5 32.1,36.0M29.3,36.8Q27.8,37.3 25.8,38.2M29.3,36.8Q30.7,40.0 34.0,42.7M29.6,40.4Q26.1,42.7 23.4,45.7M29.6,40.4Q31.2,41.8 32.6,43.8" fill="none" stroke="#f7f7f7" stroke-width="1.20" stroke-linecap="round"/><path d="M27.7,19.3l-0.2,1.9M30.9,19.8l1.2,1.0M30.9,19.8l0.3,2.3M28.2,23.7l-1.3,0.3M27.3,27.6l-1.5,-0.9M27.3,27.6l-2.6,1.3M32.9,26.2l1.1,1.4M32.9,26.2l2.6,-0.2M27.8,30.8l-1.2,1.0M28.1,34.3l-2.1,0.2M31.0,34.5l1.8,0.7M27.8,37.3l-1.3,1.3M27.8,37.3l-0.8,1.3M30.7,40.0l1.9,2.5M30.7,40.0l-0.8,2.7M26.1,42.7l-3.8,1.6M26.1,42.7l-0.4,2.8M31.2,41.8l1.3,0.8" fill="none" stroke="#e8e8e8" stroke-width="0.84" stroke-linecap="round"/>
</g>
</g></g>
<clipPath id="cl13"><rect x="188.25" y="103.10" width="49.7" height="63.6"/></clipPath>
<g clip-path="url(#cl13)">
<rect x="188.25" y="103.10" width="49.7" height="63.6" fill="#6b6b6b" stroke="#555" stroke-width="1"/>
<g transform="translate(188.25,103.10)">
<ellipse cx="25" cy="33.5" rx="21.5" ry="24.5" fill="none" stroke="#fff" stroke-width="7" filter="url(#speck)"/>
<rect x="8" y="0" width="34" height="7" fill="#fff" filter="url(#speck)"/>
<ellipse cx="25" cy="33.5" rx="23.5" ry="25.5" fill="none" stroke="#1a8cff" stroke-width="0.9" opacity="0.95"/>
<g filter="url(#jetf)">
<path d="M25.60,10.60 C39.05,10.60 46.30,22.13 46.30,36.23 C46.30,47.76 39.57,57.20 25.60,57.20 C11.63,57.20 4.90,47.76 4.90,36.23 C4.90,22.13 12.15,10.60 25.60,10.60Z" fill="#1c1c1c"/>
<path d="M25.60,12.60 C37.76,12.60 44.30,23.14 44.30,36.03 C44.30,46.57 38.22,55.20 25.60,55.20 C12.98,55.20 6.90,46.57 6.90,36.03 C6.90,23.14 13.45,12.60 25.60,12.60Z" fill="#333333" filter="url(#b10)"/>
<path d="M26.40,10.40 C37.65,10.40 44.40,21.64 44.40,35.37 C44.40,46.61 39.45,55.80 26.40,55.80 C13.35,55.80 8.40,46.61 8.40,35.37 C8.40,21.64 15.15,10.40 26.40,10.40Z" fill="#5e5e5e" filter="url(#b06)"/>
<ellipse cx="27" cy="32" rx="14" ry="19" fill="#8c8c8c" filter="url(#b15)"/>
<ellipse cx="26.5" cy="31" rx="8.5" ry="13" fill="#b2b2b2" filter="url(#b22)"/>
<ellipse cx="24" cy="45.5" rx="9" ry="3" fill="#b2b2b2" filter="url(#b10)"/>
<path d="M20.3,15.0Q24.8,14.3 29.3,15.1M24.8,15.1L24.7,18.4L24.7,21.8L24.7,25.1L25.1,28.4L24.4,31.7L25.0,35.1L24.0,38.4L24.5,41.7" fill="none" stroke="#f7f7f7" stroke-width="1.62" stroke-linecap="round"/><path d="M24.7,18.4Q23.2,20.1 22.4,20.6M24.7,18.4Q26.1,18.7 27.1,19.8M24.7,21.8Q23.9,22.7 21.2,24.6M24.7,21.8Q26.2,22.1 28.4,22.7M24.7,25.1Q27.6,26.6 30.2,28.1M25.1,28.4Q22.6,30.3 20.2,30.4M25.1,28.4Q26.0,29.1 29.0,29.2M24.4,31.7Q22.1,32.5 20.8,34.6M24.4,31.7Q26.5,32.9 28.8,35.8M25.0,35.1Q22.6,35.0 20.5,36.4M25.0,35.1Q27.9,36.4 30.1,36.4M24.0,38.4Q20.2,40.0 18.1,39.6M24.0,38.4Q26.3,40.4 27.9,41.5" fill="none" stroke="#f7f7f7" stroke-width="1.20" stroke-linecap="round"/><path d="M23.2,20.1l-0.3,1.8M26.1,18.7l1.1,0.0M23.9,22.7l-0.6,2.6M26.2,22.1l1.5,1.3M26.2,22.1l2.1,0.5M27.6,26.6l2.2,-0.1M27.6,26.6l2.2,1.4M22.6,30.3l-2.8,-0.4M26.0,29.1l0.9,1.8M22.1,32.5l-0.1,2.1M22.1,32.5l-1.4,0.7M26.5,32.9l1.0,1.9M22.6,35.0l-1.1,1.7M22.6,35.0l-1.3,2.3M27.9,36.4l1.8,-1.4M20.2,40.0l-2.6,0.8M20.2,40.0l-2.8,0.6M26.3,40.4l0.6,2.1" fill="none" stroke="#e8e8e8" stroke-width="0.84" stroke-linecap="round"/>
</g>
<ellipse cx="26.3" cy="9.5" rx="5.5" ry="4" fill="#6b6b6b" filter="url(#b06)"/>
</g></g>
<clipPath id="cl14"><rect x="240.30" y="103.10" width="49.7" height="63.6"/></clipPath>
<g clip-path="url(#cl14)">
<rect x="240.30" y="103.10" width="49.7" height="63.6" fill="#6b6b6b" stroke="#555" stroke-width="1"/>
<g transform="translate(240.30,103.10)">
<ellipse cx="25" cy="33" rx="22" ry="26" fill="none" stroke="#fff" stroke-width="7" filter="url(#speck)"/>
<rect x="8" y="0" width="34" height="7" fill="#fff" filter="url(#speck)"/>
<ellipse cx="25" cy="33" rx="24" ry="27" fill="none" stroke="#1a8cff" stroke-width="0.9" opacity="0.95"/>
<g filter="url(#jetf)">
<path d="M24.70,5.20 C37.29,5.20 46.60,18.64 46.60,35.06 C46.60,48.50 39.48,59.50 24.70,59.50 C9.92,59.50 2.80,48.50 2.80,35.06 C2.80,18.64 12.11,5.20 24.70,5.20Z" fill="#1c1c1c"/>
<path d="M24.70,7.20 C36.14,7.20 44.60,19.65 44.60,34.87 C44.60,47.31 38.13,57.50 24.70,57.50 C11.27,57.50 4.80,47.31 4.80,34.87 C4.80,19.65 13.26,7.20 24.70,7.20Z" fill="#333333" filter="url(#b10)"/>
<path d="M27.40,8.90 C36.00,8.90 44.60,21.04 44.60,35.87 C44.60,46.83 39.87,55.80 27.40,55.80 C14.93,55.80 10.20,46.83 10.20,35.87 C10.20,21.04 18.80,8.90 27.40,8.90Z" fill="#5e5e5e" filter="url(#b06)"/>
<path d="M27.40,10.40 C34.10,10.40 41.50,20.93 41.50,33.80 C41.50,43.32 37.62,51.10 27.40,51.10 C17.18,51.10 13.30,43.32 13.30,33.80 C13.30,20.93 20.70,10.40 27.40,10.40Z" fill="#999999" filter="url(#b10)"/>
<path d="M27.5,10 C31.2,21.4 40.0,34.7 40.0,48 Q27.5,51 15.0,48 C15.0,34.7 23.8,21.4 27.5,10Z" fill="#bdbdbd" filter="url(#b15)"/>
<ellipse cx="27.5" cy="31" rx="8.5" ry="14" fill="#e6e6e6" filter="url(#b15)"/>
<path d="M25.3,12.0Q29.8,11.2 34.3,12.3M29.8,12.0L30.5,15.5L29.5,19.0L30.2,22.5L30.1,26.0L30.1,29.5L29.2,33.0L29.0,36.5L29.6,40.0" fill="none" stroke="#f7f7f7" stroke-width="1.62" stroke-linecap="round"/><path d="M30.5,15.5Q28.7,17.1 27.6,17.3M30.5,15.5Q33.6,16.2 35.8,16.8M29.5,19.0Q28.3,19.3 25.4,19.7M30.2,22.5Q28.4,22.6 25.6,23.2M30.2,22.5Q31.8,24.4 33.3,26.9M30.1,26.0Q27.9,28.2 26.3,31.0M30.1,26.0Q31.9,27.5 34.5,28.5M30.1,29.5Q32.3,32.1 34.9,33.7M29.2,33.0Q26.2,34.2 24.3,34.0M29.2,33.0Q34.0,34.5 37.7,34.6M29.0,36.5Q25.8,37.7 23.3,37.9" fill="none" stroke="#f7f7f7" stroke-width="1.20" stroke-linecap="round"/><path d="M28.7,17.1l-2.0,-0.7M33.6,16.2l1.3,2.1M28.3,19.3l-1.5,1.6M28.4,22.6l-1.6,1.9M31.8,24.4l2.7,1.0M31.8,24.4l1.2,2.2M27.9,28.2l-2.4,-0.1M31.9,27.5l0.1,1.6M32.3,32.1l2.7,0.3M26.2,34.2l-1.4,2.3M34.0,34.5l2.9,-2.2M34.0,34.5l4.0,-1.4M25.8,37.7l-2.4,0.5M25.8,37.7l-2.7,0.4" fill="none" stroke="#e8e8e8" stroke-width="0.84" stroke-linecap="round"/>
</g>
</g></g>
<path d="M0.5 0V435M0 0.5H520" stroke="#000" stroke-width="1"/>
<path d="M519.4 0V435M0 434.4H520" stroke="#000" stroke-width="1.2"/>
</svg>
</body></html>
